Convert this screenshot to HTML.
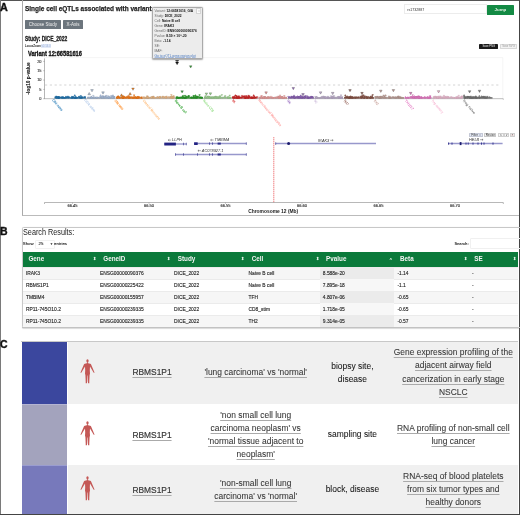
<!DOCTYPE html><html><head><meta charset="utf-8"><title>eQTL figure</title><style>
*{box-sizing:border-box;margin:0;padding:0}
html,body{width:520px;height:515px;overflow:hidden;background:#fff}
body{position:relative;font-family:"Liberation Sans",Arial,sans-serif;color:#222}
.a{position:absolute;white-space:nowrap}
.pl{position:absolute;font-weight:bold;font-size:10px;line-height:10px;color:#111;-webkit-text-stroke:0.35px #111}
.btn{position:absolute;background:#6c757d;color:#f0f0f0;font-size:4.5px;display:flex;align-items:center;justify-content:center;border-radius:0.6px}
.tt{position:absolute;left:152.4px;top:6.6px;width:50.4px;height:52.7px;background:#ececec;border:0.6px solid #aaa;border-radius:1.5px;box-shadow:0 0.5px 1.5px rgba(0,0,0,.35);font-size:3.25px;line-height:4.95px;padding:1.5px 0 0 1.2px;color:#666}
.tt b{color:#111}
.tt a{color:#4a78bd;text-decoration:underline;text-decoration-color:#a8bde0;text-decoration-thickness:0.3px;text-underline-offset:0.4px}
.th{position:absolute;top:252px;height:14.5px;color:#f4f4f4;font-weight:bold;font-size:6.3px;line-height:14.5px}
.si{position:absolute;top:252px;height:14.5px;color:#eef8f0;font-size:4.4px;line-height:14.5px;font-weight:bold}
.td{position:absolute;font-size:4.9px;color:#1e1e1e;line-height:4px;-webkit-text-stroke:0.12px #1e1e1e}
.cc{position:absolute;text-align:center;font-size:8.45px;line-height:13.1px;color:#1a1a1a;-webkit-text-stroke:0.07px currentColor}
.lk{color:#383838;text-decoration:underline;text-decoration-color:#aaa;text-underline-offset:1.5px;text-decoration-thickness:0.7px}
</style></head><body>
<div class="a" style="left:0;top:0;width:520px;height:1px;background:#555"></div>
<div class="a" style="left:0;top:0;width:1px;height:515px;background:#7a7a7a"></div>
<div class="a" style="left:519px;top:0;width:1px;height:515px;background:#444"></div>
<div class="a" style="left:0;top:514px;width:520px;height:1px;background:#444"></div>
<div class="pl" style="left:-0.2px;top:3.3px;transform:scaleX(1.08);transform-origin:0 0">A</div>
<div class="pl" style="left:0.1px;top:226.9px;transform:scaleX(1.05);transform-origin:0 0">B</div>
<div class="pl" style="left:-0.2px;top:340.3px;transform:scaleX(1.05);transform-origin:0 0">C</div>
<div class="a" style="left:22px;top:0;width:497px;height:216px;border-left:0.8px solid #aaa;border-bottom:0.8px solid #bbb"></div>
<div class="a" style="left:25.4px;top:4.1px;font-size:7.7px;font-weight:bold;color:#222;transform:scaleX(0.84);-webkit-text-stroke:0.25px #222;transform-origin:0 0">Single cell eQTLs associated with variant</div>
<div class="btn" style="left:25px;top:19.7px;width:35.8px;height:9.8px">Choose Study</div>
<div class="btn" style="left:63px;top:19.7px;width:20px;height:9.8px">X-Axis</div>
<div class="a" style="left:25.1px;top:35.2px;font-size:6.4px;font-weight:bold;color:#222;transform:scaleX(0.77);-webkit-text-stroke:0.3px #222;transform-origin:0 0">Study: DICE_2022</div>
<div class="a" style="left:25px;top:44.7px;font-size:2.8px;line-height:3.6px;color:#222;font-weight:bold">LocusZoom<span style="color:#9fb4de;background:#e2e9f6;font-weight:normal;padding:0 0.6px">v0.14.0</span></div>
<div class="a" style="left:27.7px;top:49.7px;font-size:6.6px;font-weight:bold;color:#111;transform:scaleX(0.86);-webkit-text-stroke:0.3px #111;transform-origin:0 0">Variant 12:66581616</div>
<div class="a" style="left:404.3px;top:4.3px;width:83px;height:9.6px;border:0.5px solid #ececec;background:#fff"></div>
<div class="a" style="left:407.3px;top:7.6px;font-size:3.6px;color:#333">rs1732887</div>
<div class="a" style="left:487.1px;top:5px;width:26.7px;height:9.6px;background:#138a44;border-radius:0.6px;color:#e8f5e8;font-size:4.4px;font-weight:bold;display:flex;align-items:center;justify-content:center">Jump</div>
<div class="a" style="left:479.3px;top:44.3px;width:18.9px;height:4.6px;background:#1b1b1b;color:#eee;font-size:2.7px;display:flex;align-items:center;justify-content:center;border-radius:0.4px">Save PNG</div>
<div class="a" style="left:499.8px;top:44.3px;width:17.4px;height:4.6px;background:#f2f2f2;border:0.4px solid #d8d8d8;color:#999;font-size:2.7px;display:flex;align-items:center;justify-content:center;border-radius:0.4px">Save SVG</div>
<svg width="520" height="220" viewBox="0 0 520 220" style="position:absolute;left:0;top:0">
<rect x="44.5" y="57.8" width="458.4" height="40.9" fill="none" stroke="#eeeeee" stroke-width="0.6"/>
<line x1="45" y1="85.0" x2="501" y2="85.0" stroke="#cfcfcf" stroke-width="0.9" stroke-dasharray="2.2,2.6"/>
<line x1="44.5" y1="58.5" x2="44.5" y2="98.9" stroke="#777" stroke-width="0.5"/>
<line x1="43.3" y1="98.70" x2="44.5" y2="98.70" stroke="#777" stroke-width="0.5"/>
<text x="41.5" y="100.10" font-size="3.9" text-anchor="end" fill="#333" stroke="#333" stroke-width="0.12" font-family="Liberation Sans, sans-serif">0</text>
<line x1="43.3" y1="89.38" x2="44.5" y2="89.38" stroke="#777" stroke-width="0.5"/>
<text x="41.5" y="90.78" font-size="3.9" text-anchor="end" fill="#333" stroke="#333" stroke-width="0.12" font-family="Liberation Sans, sans-serif">5</text>
<line x1="43.3" y1="80.05" x2="44.5" y2="80.05" stroke="#777" stroke-width="0.5"/>
<text x="41.5" y="81.45" font-size="3.9" text-anchor="end" fill="#333" stroke="#333" stroke-width="0.12" font-family="Liberation Sans, sans-serif">10</text>
<line x1="43.3" y1="70.72" x2="44.5" y2="70.72" stroke="#777" stroke-width="0.5"/>
<text x="41.5" y="72.12" font-size="3.9" text-anchor="end" fill="#333" stroke="#333" stroke-width="0.12" font-family="Liberation Sans, sans-serif">15</text>
<line x1="43.3" y1="61.40" x2="44.5" y2="61.40" stroke="#777" stroke-width="0.5"/>
<text x="41.5" y="62.80" font-size="3.9" text-anchor="end" fill="#333" stroke="#333" stroke-width="0.12" font-family="Liberation Sans, sans-serif">20</text>
<text transform="translate(30.2,78.5) rotate(-90)" font-size="4.8" font-weight="bold" text-anchor="middle" fill="#222" stroke="#222" stroke-width="0.12" font-family="Liberation Sans, sans-serif" textLength="32.4" lengthAdjust="spacingAndGlyphs">-log10 p-value</text>
<line x1="44.5" y1="98.7" x2="503.3" y2="98.7" stroke="#888" stroke-width="0.5"/>
<line x1="503.3" y1="98.7" x2="503.3" y2="99.8" stroke="#888" stroke-width="0.5"/>
<line x1="54.5" y1="97.9" x2="86.0" y2="97.9" stroke="#1a5f90" stroke-width="1.3"/>
<polygon points="64.01,98.40 65.61,98.40 64.81,97.01" fill="#1f77b4" stroke="#1a5f90" stroke-width="0.35"/>
<polygon points="56.24,96.67 57.84,96.67 57.04,98.06" fill="#1f77b4" stroke="#1a5f90" stroke-width="0.35"/>
<polygon points="55.79,96.70 57.39,96.70 56.59,98.10" fill="#1f77b4" stroke="#1a5f90" stroke-width="0.35"/>
<polygon points="67.40,97.06 69.00,97.06 68.20,98.46" fill="#1f77b4" stroke="#1a5f90" stroke-width="0.35"/>
<polygon points="67.12,96.11 68.72,96.11 67.92,97.50" fill="#1f77b4" stroke="#1a5f90" stroke-width="0.35"/>
<polygon points="60.90,97.94 62.50,97.94 61.70,96.55" fill="#1f77b4" stroke="#1a5f90" stroke-width="0.35"/>
<polygon points="71.83,98.21 73.43,98.21 72.63,96.82" fill="#1f77b4" stroke="#1a5f90" stroke-width="0.35"/>
<polygon points="55.44,96.00 57.04,96.00 56.24,97.39" fill="#1f77b4" stroke="#1a5f90" stroke-width="0.35"/>
<polygon points="58.46,97.03 60.06,97.03 59.26,98.43" fill="#1f77b4" stroke="#1a5f90" stroke-width="0.35"/>
<polygon points="79.22,98.38 80.82,98.38 80.02,96.99" fill="#1f77b4" stroke="#1a5f90" stroke-width="0.35"/>
<polygon points="73.74,98.23 75.34,98.23 74.54,96.84" fill="#1f77b4" stroke="#1a5f90" stroke-width="0.35"/>
<polygon points="55.94,97.07 57.54,97.07 56.74,98.46" fill="#1f77b4" stroke="#1a5f90" stroke-width="0.35"/>
<polygon points="75.02,96.79 76.62,96.79 75.82,98.18" fill="#1f77b4" stroke="#1a5f90" stroke-width="0.35"/>
<polygon points="72.09,96.76 73.69,96.76 72.89,98.15" fill="#1f77b4" stroke="#1a5f90" stroke-width="0.35"/>
<polygon points="78.55,96.43 80.15,96.43 79.35,97.82" fill="#1f77b4" stroke="#1a5f90" stroke-width="0.35"/>
<polygon points="71.75,98.08 73.35,98.08 72.55,96.68" fill="#1f77b4" stroke="#1a5f90" stroke-width="0.35"/>
<polygon points="76.54,98.30 78.14,98.30 77.34,96.91" fill="#1f77b4" stroke="#1a5f90" stroke-width="0.35"/>
<polygon points="57.65,98.19 59.25,98.19 58.45,96.80" fill="#1f77b4" stroke="#1a5f90" stroke-width="0.35"/>
<polygon points="58.70,96.72 60.30,96.72 59.50,98.12" fill="#1f77b4" stroke="#1a5f90" stroke-width="0.35"/>
<polygon points="74.65,97.68 76.25,97.68 75.45,96.29" fill="#1f77b4" stroke="#1a5f90" stroke-width="0.35"/>
<polygon points="81.05,98.28 82.65,98.28 81.85,96.89" fill="#1f77b4" stroke="#1a5f90" stroke-width="0.35"/>
<polygon points="72.37,96.61 73.97,96.61 73.17,98.01" fill="#1f77b4" stroke="#1a5f90" stroke-width="0.35"/>
<polygon points="79.96,95.47 81.56,95.47 80.76,96.86" fill="#1f77b4" stroke="#1a5f90" stroke-width="0.35"/>
<polygon points="74.52,98.46 76.12,98.46 75.32,97.07" fill="#1f77b4" stroke="#1a5f90" stroke-width="0.35"/>
<polygon points="74.00,95.88 75.60,95.88 74.80,94.49" fill="#1f77b4" stroke="#1a5f90" stroke-width="0.35"/>
<polygon points="62.79,98.22 64.39,98.22 63.59,96.83" fill="#1f77b4" stroke="#1a5f90" stroke-width="0.35"/>
<polygon points="54.70,96.75 56.30,96.75 55.50,98.15" fill="#1f77b4" stroke="#1a5f90" stroke-width="0.35"/>
<polygon points="57.62,98.46 59.22,98.46 58.42,97.07" fill="#1f77b4" stroke="#1a5f90" stroke-width="0.35"/>
<polygon points="58.00,96.94 59.60,96.94 58.80,98.34" fill="#1f77b4" stroke="#1a5f90" stroke-width="0.35"/>
<polygon points="80.93,97.06 82.53,97.06 81.73,98.45" fill="#1f77b4" stroke="#1a5f90" stroke-width="0.35"/>
<polygon points="70.98,97.28 72.58,97.28 71.78,95.89" fill="#1f77b4" stroke="#1a5f90" stroke-width="0.35"/>
<polygon points="80.70,96.92 82.30,96.92 81.50,98.31" fill="#1f77b4" stroke="#1a5f90" stroke-width="0.35"/>
<polygon points="65.09,97.28 66.69,97.28 65.89,95.89" fill="#1f77b4" stroke="#1a5f90" stroke-width="0.35"/>
<polygon points="58.66,96.99 60.26,96.99 59.46,98.39" fill="#1f77b4" stroke="#1a5f90" stroke-width="0.35"/>
<polygon points="61.21,98.12 62.81,98.12 62.01,96.73" fill="#1f77b4" stroke="#1a5f90" stroke-width="0.35"/>
<polygon points="62.12,97.10 63.72,97.10 62.92,98.49" fill="#1f77b4" stroke="#1a5f90" stroke-width="0.35"/>
<polygon points="65.41,98.02 67.01,98.02 66.21,96.63" fill="#1f77b4" stroke="#1a5f90" stroke-width="0.35"/>
<polygon points="75.34,98.09 76.94,98.09 76.14,96.69" fill="#1f77b4" stroke="#1a5f90" stroke-width="0.35"/>
<polygon points="74.89,98.46 76.49,98.46 75.69,97.07" fill="#1f77b4" stroke="#1a5f90" stroke-width="0.35"/>
<polygon points="78.10,97.32 79.70,97.32 78.90,95.93" fill="#1f77b4" stroke="#1a5f90" stroke-width="0.35"/>
<polygon points="66.12,96.82 67.72,96.82 66.92,98.21" fill="#1f77b4" stroke="#1a5f90" stroke-width="0.35"/>
<polygon points="73.60,97.07 75.20,97.07 74.40,98.46" fill="#1f77b4" stroke="#1a5f90" stroke-width="0.35"/>
<polygon points="60.45,97.00 62.05,97.00 61.25,98.40" fill="#1f77b4" stroke="#1a5f90" stroke-width="0.35"/>
<polygon points="55.62,97.10 57.22,97.10 56.42,98.50" fill="#1f77b4" stroke="#1a5f90" stroke-width="0.35"/>
<polygon points="57.14,96.85 58.74,96.85 57.94,98.24" fill="#1f77b4" stroke="#1a5f90" stroke-width="0.35"/>
<polygon points="81.02,96.57 82.62,96.57 81.82,97.96" fill="#1f77b4" stroke="#1a5f90" stroke-width="0.35"/>
<polygon points="61.79,96.86 63.39,96.86 62.59,98.25" fill="#1f77b4" stroke="#1a5f90" stroke-width="0.35"/>
<polygon points="57.80,97.43 59.40,97.43 58.60,96.04" fill="#1f77b4" stroke="#1a5f90" stroke-width="0.35"/>
<polygon points="68.40,96.73 70.00,96.73 69.20,98.12" fill="#1f77b4" stroke="#1a5f90" stroke-width="0.35"/>
<polygon points="57.16,96.87 58.76,96.87 57.96,98.26" fill="#1f77b4" stroke="#1a5f90" stroke-width="0.35"/>
<polygon points="79.61,97.00 81.21,97.00 80.41,98.40" fill="#1f77b4" stroke="#1a5f90" stroke-width="0.35"/>
<polygon points="83.39,96.68 84.99,96.68 84.19,98.07" fill="#1f77b4" stroke="#1a5f90" stroke-width="0.35"/>
<polygon points="70.78,98.48 72.38,98.48 71.58,97.09" fill="#1f77b4" stroke="#1a5f90" stroke-width="0.35"/>
<polygon points="84.24,97.37 85.84,97.37 85.04,95.98" fill="#1f77b4" stroke="#1a5f90" stroke-width="0.35"/>
<polygon points="62.07,96.85 63.67,96.85 62.87,98.24" fill="#1f77b4" stroke="#1a5f90" stroke-width="0.35"/>
<line x1="87.0" y1="97.9" x2="115.0" y2="97.9" stroke="#8797ad" stroke-width="1.3"/>
<polygon points="107.65,98.07 109.25,98.07 108.45,96.67" fill="#aec7e8" stroke="#8797ad" stroke-width="0.35"/>
<polygon points="95.53,98.35 97.13,98.35 96.33,96.96" fill="#aec7e8" stroke="#8797ad" stroke-width="0.35"/>
<polygon points="113.49,97.41 115.09,97.41 114.29,96.02" fill="#aec7e8" stroke="#8797ad" stroke-width="0.35"/>
<polygon points="108.92,96.34 110.52,96.34 109.72,97.73" fill="#aec7e8" stroke="#8797ad" stroke-width="0.35"/>
<polygon points="100.68,96.86 102.28,96.86 101.48,98.25" fill="#aec7e8" stroke="#8797ad" stroke-width="0.35"/>
<polygon points="87.27,96.92 88.87,96.92 88.07,98.31" fill="#aec7e8" stroke="#8797ad" stroke-width="0.35"/>
<polygon points="105.48,95.33 107.08,95.33 106.28,96.72" fill="#aec7e8" stroke="#8797ad" stroke-width="0.35"/>
<polygon points="112.17,95.99 113.77,95.99 112.97,94.60" fill="#aec7e8" stroke="#8797ad" stroke-width="0.35"/>
<polygon points="96.49,96.96 98.09,96.96 97.29,98.36" fill="#aec7e8" stroke="#8797ad" stroke-width="0.35"/>
<polygon points="91.89,98.37 93.49,98.37 92.69,96.97" fill="#aec7e8" stroke="#8797ad" stroke-width="0.35"/>
<polygon points="111.17,96.07 112.77,96.07 111.97,97.46" fill="#aec7e8" stroke="#8797ad" stroke-width="0.35"/>
<polygon points="104.39,96.20 105.99,96.20 105.19,97.59" fill="#aec7e8" stroke="#8797ad" stroke-width="0.35"/>
<polygon points="104.60,97.14 106.20,97.14 105.40,95.74" fill="#aec7e8" stroke="#8797ad" stroke-width="0.35"/>
<polygon points="107.05,96.74 108.65,96.74 107.85,98.13" fill="#aec7e8" stroke="#8797ad" stroke-width="0.35"/>
<polygon points="108.12,98.27 109.72,98.27 108.92,96.88" fill="#aec7e8" stroke="#8797ad" stroke-width="0.35"/>
<polygon points="113.12,96.82 114.72,96.82 113.92,98.21" fill="#aec7e8" stroke="#8797ad" stroke-width="0.35"/>
<polygon points="112.44,96.37 114.04,96.37 113.24,97.77" fill="#aec7e8" stroke="#8797ad" stroke-width="0.35"/>
<polygon points="89.98,98.40 91.58,98.40 90.78,97.01" fill="#aec7e8" stroke="#8797ad" stroke-width="0.35"/>
<polygon points="108.60,98.41 110.20,98.41 109.40,97.01" fill="#aec7e8" stroke="#8797ad" stroke-width="0.35"/>
<polygon points="113.36,96.50 114.96,96.50 114.16,97.89" fill="#aec7e8" stroke="#8797ad" stroke-width="0.35"/>
<polygon points="101.53,97.02 103.13,97.02 102.33,98.42" fill="#aec7e8" stroke="#8797ad" stroke-width="0.35"/>
<polygon points="113.10,97.90 114.70,97.90 113.90,96.51" fill="#aec7e8" stroke="#8797ad" stroke-width="0.35"/>
<polygon points="112.08,98.17 113.68,98.17 112.88,96.78" fill="#aec7e8" stroke="#8797ad" stroke-width="0.35"/>
<polygon points="109.14,96.97 110.74,96.97 109.94,98.36" fill="#aec7e8" stroke="#8797ad" stroke-width="0.35"/>
<polygon points="94.53,98.34 96.13,98.34 95.33,96.95" fill="#aec7e8" stroke="#8797ad" stroke-width="0.35"/>
<polygon points="93.61,96.80 95.21,96.80 94.41,98.19" fill="#aec7e8" stroke="#8797ad" stroke-width="0.35"/>
<polygon points="111.43,96.86 113.03,96.86 112.23,98.25" fill="#aec7e8" stroke="#8797ad" stroke-width="0.35"/>
<polygon points="102.48,95.78 104.08,95.78 103.28,97.17" fill="#aec7e8" stroke="#8797ad" stroke-width="0.35"/>
<polygon points="111.65,98.10 113.25,98.10 112.45,96.71" fill="#aec7e8" stroke="#8797ad" stroke-width="0.35"/>
<polygon points="100.84,97.09 102.44,97.09 101.64,98.49" fill="#aec7e8" stroke="#8797ad" stroke-width="0.35"/>
<polygon points="91.52,98.49 93.12,98.49 92.32,97.10" fill="#aec7e8" stroke="#8797ad" stroke-width="0.35"/>
<polygon points="91.22,98.13 92.82,98.13 92.02,96.74" fill="#aec7e8" stroke="#8797ad" stroke-width="0.35"/>
<polygon points="101.75,98.27 103.35,98.27 102.55,96.88" fill="#aec7e8" stroke="#8797ad" stroke-width="0.35"/>
<polygon points="101.72,96.24 103.32,96.24 102.52,97.63" fill="#aec7e8" stroke="#8797ad" stroke-width="0.35"/>
<polygon points="101.85,96.94 103.45,96.94 102.65,98.33" fill="#aec7e8" stroke="#8797ad" stroke-width="0.35"/>
<polygon points="107.66,98.10 109.26,98.10 108.46,96.70" fill="#aec7e8" stroke="#8797ad" stroke-width="0.35"/>
<polygon points="107.32,95.73 108.92,95.73 108.12,97.12" fill="#aec7e8" stroke="#8797ad" stroke-width="0.35"/>
<polygon points="103.28,98.10 104.88,98.10 104.08,96.71" fill="#aec7e8" stroke="#8797ad" stroke-width="0.35"/>
<polygon points="105.48,98.16 107.08,98.16 106.28,96.76" fill="#aec7e8" stroke="#8797ad" stroke-width="0.35"/>
<polygon points="99.60,96.89 101.20,96.89 100.40,95.50" fill="#aec7e8" stroke="#8797ad" stroke-width="0.35"/>
<polygon points="110.52,95.49 112.12,95.49 111.32,96.89" fill="#aec7e8" stroke="#8797ad" stroke-width="0.35"/>
<polygon points="101.83,96.87 103.43,96.87 102.63,95.48" fill="#aec7e8" stroke="#8797ad" stroke-width="0.35"/>
<polygon points="90.26,97.03 91.86,97.03 91.06,98.42" fill="#aec7e8" stroke="#8797ad" stroke-width="0.35"/>
<polygon points="88.49,96.95 90.09,96.95 89.29,98.34" fill="#aec7e8" stroke="#8797ad" stroke-width="0.35"/>
<polygon points="104.84,97.63 106.44,97.63 105.64,96.24" fill="#aec7e8" stroke="#8797ad" stroke-width="0.35"/>
<polygon points="90.73,97.78 92.33,97.78 91.53,96.39" fill="#aec7e8" stroke="#8797ad" stroke-width="0.35"/>
<polygon points="90.42,97.28 92.02,97.28 91.22,95.89" fill="#aec7e8" stroke="#8797ad" stroke-width="0.35"/>
<polygon points="92.52,95.38 94.12,95.38 93.32,96.77" fill="#aec7e8" stroke="#8797ad" stroke-width="0.35"/>
<polygon points="99.85,95.90 101.45,95.90 100.65,94.51" fill="#aec7e8" stroke="#8797ad" stroke-width="0.35"/>
<polygon points="90.92,98.18 92.52,98.18 91.72,96.78" fill="#aec7e8" stroke="#8797ad" stroke-width="0.35"/>
<polygon points="95.79,96.98 97.39,96.98 96.59,98.37" fill="#aec7e8" stroke="#8797ad" stroke-width="0.35"/>
<polygon points="106.29,98.48 107.89,98.48 107.09,97.09" fill="#aec7e8" stroke="#8797ad" stroke-width="0.35"/>
<polygon points="98.57,97.09 100.17,97.09 99.37,98.49" fill="#aec7e8" stroke="#8797ad" stroke-width="0.35"/>
<polygon points="103.60,96.70 105.20,96.70 104.40,98.09" fill="#aec7e8" stroke="#8797ad" stroke-width="0.35"/>
<polygon points="113.49,97.62 115.09,97.62 114.29,96.23" fill="#aec7e8" stroke="#8797ad" stroke-width="0.35"/>
<line x1="116.0" y1="97.9" x2="142.5" y2="97.9" stroke="#c8661b" stroke-width="1.3"/>
<polygon points="118.21,96.93 119.81,96.93 119.01,98.32" fill="#ff7f0e" stroke="#c8661b" stroke-width="0.35"/>
<polygon points="135.68,96.93 137.28,96.93 136.48,98.32" fill="#ff7f0e" stroke="#c8661b" stroke-width="0.35"/>
<polygon points="126.44,97.13 128.04,97.13 127.24,95.73" fill="#ff7f0e" stroke="#c8661b" stroke-width="0.35"/>
<polygon points="122.20,98.40 123.80,98.40 123.00,97.01" fill="#ff7f0e" stroke="#c8661b" stroke-width="0.35"/>
<polygon points="130.28,96.42 131.88,96.42 131.08,97.81" fill="#ff7f0e" stroke="#c8661b" stroke-width="0.35"/>
<polygon points="116.99,96.45 118.59,96.45 117.79,97.84" fill="#ff7f0e" stroke="#c8661b" stroke-width="0.35"/>
<polygon points="117.38,96.92 118.98,96.92 118.18,95.53" fill="#ff7f0e" stroke="#c8661b" stroke-width="0.35"/>
<polygon points="136.26,98.45 137.86,98.45 137.06,97.05" fill="#ff7f0e" stroke="#c8661b" stroke-width="0.35"/>
<polygon points="117.23,95.98 118.83,95.98 118.03,97.37" fill="#ff7f0e" stroke="#c8661b" stroke-width="0.35"/>
<polygon points="124.28,98.04 125.88,98.04 125.08,96.65" fill="#ff7f0e" stroke="#c8661b" stroke-width="0.35"/>
<polygon points="122.44,98.42 124.04,98.42 123.24,97.03" fill="#ff7f0e" stroke="#c8661b" stroke-width="0.35"/>
<polygon points="121.68,97.04 123.28,97.04 122.48,98.43" fill="#ff7f0e" stroke="#c8661b" stroke-width="0.35"/>
<polygon points="116.80,96.98 118.40,96.98 117.60,98.37" fill="#ff7f0e" stroke="#c8661b" stroke-width="0.35"/>
<polygon points="123.40,96.30 125.00,96.30 124.20,97.69" fill="#ff7f0e" stroke="#c8661b" stroke-width="0.35"/>
<polygon points="128.45,96.99 130.05,96.99 129.25,98.39" fill="#ff7f0e" stroke="#c8661b" stroke-width="0.35"/>
<polygon points="115.97,96.94 117.57,96.94 116.77,98.33" fill="#ff7f0e" stroke="#c8661b" stroke-width="0.35"/>
<polygon points="134.49,96.65 136.09,96.65 135.29,98.04" fill="#ff7f0e" stroke="#c8661b" stroke-width="0.35"/>
<polygon points="127.80,95.56 129.40,95.56 128.60,96.95" fill="#ff7f0e" stroke="#c8661b" stroke-width="0.35"/>
<polygon points="136.71,96.78 138.31,96.78 137.51,98.18" fill="#ff7f0e" stroke="#c8661b" stroke-width="0.35"/>
<polygon points="137.12,98.21 138.72,98.21 137.92,96.82" fill="#ff7f0e" stroke="#c8661b" stroke-width="0.35"/>
<polygon points="133.31,94.82 134.91,94.82 134.11,96.21" fill="#ff7f0e" stroke="#c8661b" stroke-width="0.35"/>
<polygon points="137.06,97.80 138.66,97.80 137.86,96.41" fill="#ff7f0e" stroke="#c8661b" stroke-width="0.35"/>
<polygon points="125.98,96.86 127.58,96.86 126.78,98.25" fill="#ff7f0e" stroke="#c8661b" stroke-width="0.35"/>
<polygon points="118.86,98.45 120.46,98.45 119.66,97.06" fill="#ff7f0e" stroke="#c8661b" stroke-width="0.35"/>
<polygon points="122.12,97.00 123.72,97.00 122.92,98.40" fill="#ff7f0e" stroke="#c8661b" stroke-width="0.35"/>
<polygon points="137.29,97.34 138.89,97.34 138.09,95.95" fill="#ff7f0e" stroke="#c8661b" stroke-width="0.35"/>
<polygon points="122.80,96.95 124.40,96.95 123.60,98.34" fill="#ff7f0e" stroke="#c8661b" stroke-width="0.35"/>
<polygon points="127.40,97.01 129.00,97.01 128.20,98.40" fill="#ff7f0e" stroke="#c8661b" stroke-width="0.35"/>
<polygon points="122.32,96.65 123.92,96.65 123.12,95.26" fill="#ff7f0e" stroke="#c8661b" stroke-width="0.35"/>
<polygon points="129.67,98.34 131.27,98.34 130.47,96.95" fill="#ff7f0e" stroke="#c8661b" stroke-width="0.35"/>
<polygon points="123.52,96.85 125.12,96.85 124.32,98.25" fill="#ff7f0e" stroke="#c8661b" stroke-width="0.35"/>
<polygon points="125.38,98.13 126.98,98.13 126.18,96.74" fill="#ff7f0e" stroke="#c8661b" stroke-width="0.35"/>
<polygon points="120.71,96.71 122.31,96.71 121.51,98.10" fill="#ff7f0e" stroke="#c8661b" stroke-width="0.35"/>
<polygon points="122.34,97.05 123.94,97.05 123.14,98.44" fill="#ff7f0e" stroke="#c8661b" stroke-width="0.35"/>
<polygon points="116.58,97.09 118.18,97.09 117.38,98.48" fill="#ff7f0e" stroke="#c8661b" stroke-width="0.35"/>
<polygon points="121.53,98.00 123.13,98.00 122.33,96.61" fill="#ff7f0e" stroke="#c8661b" stroke-width="0.35"/>
<polygon points="134.94,97.89 136.54,97.89 135.74,96.50" fill="#ff7f0e" stroke="#c8661b" stroke-width="0.35"/>
<polygon points="138.27,96.83 139.87,96.83 139.07,98.22" fill="#ff7f0e" stroke="#c8661b" stroke-width="0.35"/>
<polygon points="141.00,98.40 142.60,98.40 141.80,97.01" fill="#ff7f0e" stroke="#c8661b" stroke-width="0.35"/>
<polygon points="132.16,98.47 133.76,98.47 132.96,97.08" fill="#ff7f0e" stroke="#c8661b" stroke-width="0.35"/>
<polygon points="138.60,97.94 140.20,97.94 139.40,96.55" fill="#ff7f0e" stroke="#c8661b" stroke-width="0.35"/>
<polygon points="136.54,98.41 138.14,98.41 137.34,97.02" fill="#ff7f0e" stroke="#c8661b" stroke-width="0.35"/>
<polygon points="128.56,97.48 130.16,97.48 129.36,96.09" fill="#ff7f0e" stroke="#c8661b" stroke-width="0.35"/>
<polygon points="136.90,98.00 138.50,98.00 137.70,96.61" fill="#ff7f0e" stroke="#c8661b" stroke-width="0.35"/>
<polygon points="133.19,96.44 134.79,96.44 133.99,97.83" fill="#ff7f0e" stroke="#c8661b" stroke-width="0.35"/>
<polygon points="116.31,97.02 117.91,97.02 117.11,98.42" fill="#ff7f0e" stroke="#c8661b" stroke-width="0.35"/>
<polygon points="118.22,97.47 119.82,97.47 119.02,96.08" fill="#ff7f0e" stroke="#c8661b" stroke-width="0.35"/>
<polygon points="131.76,97.94 133.36,97.94 132.56,96.55" fill="#ff7f0e" stroke="#c8661b" stroke-width="0.35"/>
<polygon points="128.17,98.49 129.77,98.49 128.97,97.10" fill="#ff7f0e" stroke="#c8661b" stroke-width="0.35"/>
<polygon points="134.88,98.10 136.48,98.10 135.68,96.71" fill="#ff7f0e" stroke="#c8661b" stroke-width="0.35"/>
<polygon points="132.58,98.46 134.18,98.46 133.38,97.07" fill="#ff7f0e" stroke="#c8661b" stroke-width="0.35"/>
<polygon points="122.03,97.06 123.63,97.06 122.83,98.45" fill="#ff7f0e" stroke="#c8661b" stroke-width="0.35"/>
<polygon points="134.39,98.37 135.99,98.37 135.19,96.97" fill="#ff7f0e" stroke="#c8661b" stroke-width="0.35"/>
<polygon points="140.77,96.72 142.37,96.72 141.57,98.11" fill="#ff7f0e" stroke="#c8661b" stroke-width="0.35"/>
<polygon points="127.91,97.85 129.51,97.85 128.71,96.45" fill="#ff7f0e" stroke="#c8661b" stroke-width="0.35"/>
<line x1="143.5" y1="97.9" x2="174.5" y2="97.9" stroke="#b89878" stroke-width="1.3"/>
<polygon points="161.76,96.52 163.36,96.52 162.56,97.91" fill="#ffbb78" stroke="#b89878" stroke-width="0.35"/>
<polygon points="147.48,98.33 149.08,98.33 148.28,96.94" fill="#ffbb78" stroke="#b89878" stroke-width="0.35"/>
<polygon points="152.25,96.63 153.85,96.63 153.05,98.02" fill="#ffbb78" stroke="#b89878" stroke-width="0.35"/>
<polygon points="144.84,98.32 146.44,98.32 145.64,96.93" fill="#ffbb78" stroke="#b89878" stroke-width="0.35"/>
<polygon points="164.04,96.47 165.64,96.47 164.84,97.86" fill="#ffbb78" stroke="#b89878" stroke-width="0.35"/>
<polygon points="158.70,96.75 160.30,96.75 159.50,98.14" fill="#ffbb78" stroke="#b89878" stroke-width="0.35"/>
<polygon points="146.60,95.84 148.20,95.84 147.40,97.23" fill="#ffbb78" stroke="#b89878" stroke-width="0.35"/>
<polygon points="172.74,95.55 174.34,95.55 173.54,96.94" fill="#ffbb78" stroke="#b89878" stroke-width="0.35"/>
<polygon points="156.95,97.53 158.55,97.53 157.75,96.14" fill="#ffbb78" stroke="#b89878" stroke-width="0.35"/>
<polygon points="156.66,96.93 158.26,96.93 157.46,98.32" fill="#ffbb78" stroke="#b89878" stroke-width="0.35"/>
<polygon points="171.75,98.36 173.35,98.36 172.55,96.97" fill="#ffbb78" stroke="#b89878" stroke-width="0.35"/>
<polygon points="147.31,98.08 148.91,98.08 148.11,96.68" fill="#ffbb78" stroke="#b89878" stroke-width="0.35"/>
<polygon points="147.03,97.53 148.63,97.53 147.83,96.13" fill="#ffbb78" stroke="#b89878" stroke-width="0.35"/>
<polygon points="169.96,96.42 171.56,96.42 170.76,97.81" fill="#ffbb78" stroke="#b89878" stroke-width="0.35"/>
<polygon points="170.29,96.73 171.89,96.73 171.09,98.12" fill="#ffbb78" stroke="#b89878" stroke-width="0.35"/>
<polygon points="143.11,96.72 144.71,96.72 143.91,98.11" fill="#ffbb78" stroke="#b89878" stroke-width="0.35"/>
<polygon points="152.18,97.02 153.78,97.02 152.98,98.41" fill="#ffbb78" stroke="#b89878" stroke-width="0.35"/>
<polygon points="152.61,96.07 154.21,96.07 153.41,97.46" fill="#ffbb78" stroke="#b89878" stroke-width="0.35"/>
<polygon points="165.82,96.07 167.42,96.07 166.62,97.46" fill="#ffbb78" stroke="#b89878" stroke-width="0.35"/>
<polygon points="171.16,97.79 172.76,97.79 171.96,96.40" fill="#ffbb78" stroke="#b89878" stroke-width="0.35"/>
<polygon points="151.81,96.84 153.41,96.84 152.61,98.23" fill="#ffbb78" stroke="#b89878" stroke-width="0.35"/>
<polygon points="173.36,96.60 174.96,96.60 174.16,97.99" fill="#ffbb78" stroke="#b89878" stroke-width="0.35"/>
<polygon points="156.01,96.92 157.61,96.92 156.81,98.31" fill="#ffbb78" stroke="#b89878" stroke-width="0.35"/>
<polygon points="146.09,96.09 147.69,96.09 146.89,97.48" fill="#ffbb78" stroke="#b89878" stroke-width="0.35"/>
<polygon points="171.44,96.94 173.04,96.94 172.24,98.33" fill="#ffbb78" stroke="#b89878" stroke-width="0.35"/>
<polygon points="158.53,96.99 160.13,96.99 159.33,98.38" fill="#ffbb78" stroke="#b89878" stroke-width="0.35"/>
<polygon points="172.07,97.28 173.67,97.28 172.87,95.89" fill="#ffbb78" stroke="#b89878" stroke-width="0.35"/>
<polygon points="162.18,97.11 163.78,97.11 162.98,95.72" fill="#ffbb78" stroke="#b89878" stroke-width="0.35"/>
<polygon points="159.70,96.39 161.30,96.39 160.50,97.78" fill="#ffbb78" stroke="#b89878" stroke-width="0.35"/>
<polygon points="165.26,98.16 166.86,98.16 166.06,96.77" fill="#ffbb78" stroke="#b89878" stroke-width="0.35"/>
<polygon points="162.59,96.91 164.19,96.91 163.39,98.31" fill="#ffbb78" stroke="#b89878" stroke-width="0.35"/>
<polygon points="171.17,97.03 172.77,97.03 171.97,98.42" fill="#ffbb78" stroke="#b89878" stroke-width="0.35"/>
<polygon points="153.45,98.30 155.05,98.30 154.25,96.90" fill="#ffbb78" stroke="#b89878" stroke-width="0.35"/>
<polygon points="172.68,98.33 174.28,98.33 173.48,96.93" fill="#ffbb78" stroke="#b89878" stroke-width="0.35"/>
<polygon points="152.15,96.64 153.75,96.64 152.95,98.04" fill="#ffbb78" stroke="#b89878" stroke-width="0.35"/>
<polygon points="148.09,97.00 149.69,97.00 148.89,98.40" fill="#ffbb78" stroke="#b89878" stroke-width="0.35"/>
<polygon points="170.54,96.72 172.14,96.72 171.34,98.11" fill="#ffbb78" stroke="#b89878" stroke-width="0.35"/>
<polygon points="170.55,94.49 172.15,94.49 171.35,95.88" fill="#ffbb78" stroke="#b89878" stroke-width="0.35"/>
<polygon points="147.24,96.98 148.84,96.98 148.04,98.38" fill="#ffbb78" stroke="#b89878" stroke-width="0.35"/>
<polygon points="153.40,97.05 155.00,97.05 154.20,98.44" fill="#ffbb78" stroke="#b89878" stroke-width="0.35"/>
<polygon points="150.85,98.02 152.45,98.02 151.65,96.63" fill="#ffbb78" stroke="#b89878" stroke-width="0.35"/>
<polygon points="165.79,96.80 167.39,96.80 166.59,98.20" fill="#ffbb78" stroke="#b89878" stroke-width="0.35"/>
<polygon points="158.93,96.84 160.53,96.84 159.73,98.23" fill="#ffbb78" stroke="#b89878" stroke-width="0.35"/>
<polygon points="144.89,98.31 146.49,98.31 145.69,96.92" fill="#ffbb78" stroke="#b89878" stroke-width="0.35"/>
<polygon points="146.83,98.10 148.43,98.10 147.63,96.71" fill="#ffbb78" stroke="#b89878" stroke-width="0.35"/>
<polygon points="169.23,96.97 170.83,96.97 170.03,98.36" fill="#ffbb78" stroke="#b89878" stroke-width="0.35"/>
<polygon points="150.55,96.82 152.15,96.82 151.35,98.21" fill="#ffbb78" stroke="#b89878" stroke-width="0.35"/>
<polygon points="172.00,97.43 173.60,97.43 172.80,96.04" fill="#ffbb78" stroke="#b89878" stroke-width="0.35"/>
<polygon points="143.66,98.48 145.26,98.48 144.46,97.09" fill="#ffbb78" stroke="#b89878" stroke-width="0.35"/>
<polygon points="170.23,98.13 171.83,98.13 171.03,96.74" fill="#ffbb78" stroke="#b89878" stroke-width="0.35"/>
<polygon points="143.01,98.22 144.61,98.22 143.81,96.82" fill="#ffbb78" stroke="#b89878" stroke-width="0.35"/>
<polygon points="168.10,97.40 169.70,97.40 168.90,96.01" fill="#ffbb78" stroke="#b89878" stroke-width="0.35"/>
<polygon points="150.55,97.04 152.15,97.04 151.35,98.43" fill="#ffbb78" stroke="#b89878" stroke-width="0.35"/>
<polygon points="158.88,97.85 160.48,97.85 159.68,96.46" fill="#ffbb78" stroke="#b89878" stroke-width="0.35"/>
<polygon points="164.94,97.91 166.54,97.91 165.74,96.51" fill="#ffbb78" stroke="#b89878" stroke-width="0.35"/>
<line x1="175.5" y1="97.9" x2="203.0" y2="97.9" stroke="#237f23" stroke-width="1.3"/>
<polygon points="187.30,96.65 188.90,96.65 188.10,98.04" fill="#2ca02c" stroke="#237f23" stroke-width="0.35"/>
<polygon points="196.04,98.35 197.64,98.35 196.84,96.95" fill="#2ca02c" stroke="#237f23" stroke-width="0.35"/>
<polygon points="192.36,96.90 193.96,96.90 193.16,98.29" fill="#2ca02c" stroke="#237f23" stroke-width="0.35"/>
<polygon points="181.77,97.92 183.37,97.92 182.57,96.53" fill="#2ca02c" stroke="#237f23" stroke-width="0.35"/>
<polygon points="178.02,98.45 179.62,98.45 178.82,97.06" fill="#2ca02c" stroke="#237f23" stroke-width="0.35"/>
<polygon points="190.68,96.83 192.28,96.83 191.48,98.22" fill="#2ca02c" stroke="#237f23" stroke-width="0.35"/>
<polygon points="191.17,97.10 192.77,97.10 191.97,98.49" fill="#2ca02c" stroke="#237f23" stroke-width="0.35"/>
<polygon points="187.39,96.69 188.99,96.69 188.19,95.30" fill="#2ca02c" stroke="#237f23" stroke-width="0.35"/>
<polygon points="198.77,96.74 200.37,96.74 199.57,98.13" fill="#2ca02c" stroke="#237f23" stroke-width="0.35"/>
<polygon points="181.65,96.67 183.25,96.67 182.45,95.28" fill="#2ca02c" stroke="#237f23" stroke-width="0.35"/>
<polygon points="183.27,97.09 184.87,97.09 184.07,98.48" fill="#2ca02c" stroke="#237f23" stroke-width="0.35"/>
<polygon points="193.14,96.80 194.74,96.80 193.94,98.19" fill="#2ca02c" stroke="#237f23" stroke-width="0.35"/>
<polygon points="192.95,95.64 194.55,95.64 193.75,97.03" fill="#2ca02c" stroke="#237f23" stroke-width="0.35"/>
<polygon points="175.92,96.87 177.52,96.87 176.72,98.26" fill="#2ca02c" stroke="#237f23" stroke-width="0.35"/>
<polygon points="193.36,98.37 194.96,98.37 194.16,96.98" fill="#2ca02c" stroke="#237f23" stroke-width="0.35"/>
<polygon points="194.88,96.71 196.48,96.71 195.68,98.10" fill="#2ca02c" stroke="#237f23" stroke-width="0.35"/>
<polygon points="201.09,98.28 202.69,98.28 201.89,96.89" fill="#2ca02c" stroke="#237f23" stroke-width="0.35"/>
<polygon points="181.21,98.35 182.81,98.35 182.01,96.96" fill="#2ca02c" stroke="#237f23" stroke-width="0.35"/>
<polygon points="182.93,95.39 184.53,95.39 183.73,96.78" fill="#2ca02c" stroke="#237f23" stroke-width="0.35"/>
<polygon points="180.04,96.96 181.64,96.96 180.84,98.35" fill="#2ca02c" stroke="#237f23" stroke-width="0.35"/>
<polygon points="192.90,95.42 194.50,95.42 193.70,96.82" fill="#2ca02c" stroke="#237f23" stroke-width="0.35"/>
<polygon points="185.58,98.36 187.18,98.36 186.38,96.97" fill="#2ca02c" stroke="#237f23" stroke-width="0.35"/>
<polygon points="178.82,97.07 180.42,97.07 179.62,98.47" fill="#2ca02c" stroke="#237f23" stroke-width="0.35"/>
<polygon points="185.58,97.20 187.18,97.20 186.38,95.81" fill="#2ca02c" stroke="#237f23" stroke-width="0.35"/>
<polygon points="194.71,95.88 196.31,95.88 195.51,94.49" fill="#2ca02c" stroke="#237f23" stroke-width="0.35"/>
<polygon points="183.86,98.38 185.46,98.38 184.66,96.99" fill="#2ca02c" stroke="#237f23" stroke-width="0.35"/>
<polygon points="195.08,98.48 196.68,98.48 195.88,97.09" fill="#2ca02c" stroke="#237f23" stroke-width="0.35"/>
<polygon points="185.18,96.84 186.78,96.84 185.98,98.23" fill="#2ca02c" stroke="#237f23" stroke-width="0.35"/>
<polygon points="179.55,97.10 181.15,97.10 180.35,98.49" fill="#2ca02c" stroke="#237f23" stroke-width="0.35"/>
<polygon points="184.45,95.34 186.05,95.34 185.25,96.74" fill="#2ca02c" stroke="#237f23" stroke-width="0.35"/>
<polygon points="200.94,96.97 202.54,96.97 201.74,98.36" fill="#2ca02c" stroke="#237f23" stroke-width="0.35"/>
<polygon points="197.10,96.13 198.70,96.13 197.90,97.52" fill="#2ca02c" stroke="#237f23" stroke-width="0.35"/>
<polygon points="176.33,96.74 177.93,96.74 177.13,98.13" fill="#2ca02c" stroke="#237f23" stroke-width="0.35"/>
<polygon points="199.73,96.98 201.33,96.98 200.53,98.37" fill="#2ca02c" stroke="#237f23" stroke-width="0.35"/>
<polygon points="199.13,97.09 200.73,97.09 199.93,98.48" fill="#2ca02c" stroke="#237f23" stroke-width="0.35"/>
<polygon points="196.84,96.28 198.44,96.28 197.64,97.67" fill="#2ca02c" stroke="#237f23" stroke-width="0.35"/>
<polygon points="175.94,98.46 177.54,98.46 176.74,97.07" fill="#2ca02c" stroke="#237f23" stroke-width="0.35"/>
<polygon points="181.91,97.72 183.51,97.72 182.71,96.33" fill="#2ca02c" stroke="#237f23" stroke-width="0.35"/>
<polygon points="184.12,98.32 185.72,98.32 184.92,96.92" fill="#2ca02c" stroke="#237f23" stroke-width="0.35"/>
<polygon points="191.60,98.32 193.20,98.32 192.40,96.93" fill="#2ca02c" stroke="#237f23" stroke-width="0.35"/>
<polygon points="183.51,96.92 185.11,96.92 184.31,98.31" fill="#2ca02c" stroke="#237f23" stroke-width="0.35"/>
<polygon points="195.33,97.09 196.93,97.09 196.13,95.70" fill="#2ca02c" stroke="#237f23" stroke-width="0.35"/>
<polygon points="200.37,97.09 201.97,97.09 201.17,98.48" fill="#2ca02c" stroke="#237f23" stroke-width="0.35"/>
<polygon points="187.78,96.72 189.38,96.72 188.58,95.33" fill="#2ca02c" stroke="#237f23" stroke-width="0.35"/>
<polygon points="185.40,96.94 187.00,96.94 186.20,98.33" fill="#2ca02c" stroke="#237f23" stroke-width="0.35"/>
<polygon points="188.27,95.62 189.87,95.62 189.07,97.01" fill="#2ca02c" stroke="#237f23" stroke-width="0.35"/>
<polygon points="196.59,97.74 198.19,97.74 197.39,96.35" fill="#2ca02c" stroke="#237f23" stroke-width="0.35"/>
<polygon points="195.79,96.58 197.39,96.58 196.59,97.97" fill="#2ca02c" stroke="#237f23" stroke-width="0.35"/>
<polygon points="183.60,98.24 185.20,98.24 184.40,96.85" fill="#2ca02c" stroke="#237f23" stroke-width="0.35"/>
<polygon points="177.13,98.37 178.73,98.37 177.93,96.98" fill="#2ca02c" stroke="#237f23" stroke-width="0.35"/>
<polygon points="181.65,97.07 183.25,97.07 182.45,98.46" fill="#2ca02c" stroke="#237f23" stroke-width="0.35"/>
<polygon points="189.86,98.27 191.46,98.27 190.66,96.88" fill="#2ca02c" stroke="#237f23" stroke-width="0.35"/>
<polygon points="198.77,94.61 200.37,94.61 199.57,96.00" fill="#2ca02c" stroke="#237f23" stroke-width="0.35"/>
<polygon points="177.26,97.05 178.86,97.05 178.06,98.44" fill="#2ca02c" stroke="#237f23" stroke-width="0.35"/>
<polygon points="194.09,96.77 195.69,96.77 194.89,98.16" fill="#2ca02c" stroke="#237f23" stroke-width="0.35"/>
<line x1="204.0" y1="97.9" x2="231.5" y2="97.9" stroke="#86a67e" stroke-width="1.3"/>
<polygon points="214.71,97.95 216.31,97.95 215.51,96.56" fill="#98df8a" stroke="#86a67e" stroke-width="0.35"/>
<polygon points="223.62,97.44 225.22,97.44 224.42,96.04" fill="#98df8a" stroke="#86a67e" stroke-width="0.35"/>
<polygon points="206.76,96.07 208.36,96.07 207.56,97.46" fill="#98df8a" stroke="#86a67e" stroke-width="0.35"/>
<polygon points="218.75,98.23 220.35,98.23 219.55,96.84" fill="#98df8a" stroke="#86a67e" stroke-width="0.35"/>
<polygon points="208.86,96.94 210.46,96.94 209.66,98.34" fill="#98df8a" stroke="#86a67e" stroke-width="0.35"/>
<polygon points="207.62,97.28 209.22,97.28 208.42,95.89" fill="#98df8a" stroke="#86a67e" stroke-width="0.35"/>
<polygon points="212.28,98.21 213.88,98.21 213.08,96.82" fill="#98df8a" stroke="#86a67e" stroke-width="0.35"/>
<polygon points="217.15,98.35 218.75,98.35 217.95,96.96" fill="#98df8a" stroke="#86a67e" stroke-width="0.35"/>
<polygon points="221.07,94.49 222.67,94.49 221.87,95.88" fill="#98df8a" stroke="#86a67e" stroke-width="0.35"/>
<polygon points="216.27,97.53 217.87,97.53 217.07,96.14" fill="#98df8a" stroke="#86a67e" stroke-width="0.35"/>
<polygon points="228.10,97.08 229.70,97.08 228.90,98.47" fill="#98df8a" stroke="#86a67e" stroke-width="0.35"/>
<polygon points="206.71,98.38 208.31,98.38 207.51,96.99" fill="#98df8a" stroke="#86a67e" stroke-width="0.35"/>
<polygon points="219.19,95.60 220.79,95.60 219.99,96.99" fill="#98df8a" stroke="#86a67e" stroke-width="0.35"/>
<polygon points="226.80,96.77 228.40,96.77 227.60,98.16" fill="#98df8a" stroke="#86a67e" stroke-width="0.35"/>
<polygon points="224.42,95.46 226.02,95.46 225.22,96.85" fill="#98df8a" stroke="#86a67e" stroke-width="0.35"/>
<polygon points="219.54,96.56 221.14,96.56 220.34,97.95" fill="#98df8a" stroke="#86a67e" stroke-width="0.35"/>
<polygon points="213.42,97.02 215.02,97.02 214.22,98.41" fill="#98df8a" stroke="#86a67e" stroke-width="0.35"/>
<polygon points="210.36,97.98 211.96,97.98 211.16,96.59" fill="#98df8a" stroke="#86a67e" stroke-width="0.35"/>
<polygon points="208.97,97.10 210.57,97.10 209.77,98.49" fill="#98df8a" stroke="#86a67e" stroke-width="0.35"/>
<polygon points="221.75,96.99 223.35,96.99 222.55,98.38" fill="#98df8a" stroke="#86a67e" stroke-width="0.35"/>
<polygon points="208.97,97.60 210.57,97.60 209.77,96.21" fill="#98df8a" stroke="#86a67e" stroke-width="0.35"/>
<polygon points="205.20,97.04 206.80,97.04 206.00,98.44" fill="#98df8a" stroke="#86a67e" stroke-width="0.35"/>
<polygon points="218.30,96.53 219.90,96.53 219.10,97.92" fill="#98df8a" stroke="#86a67e" stroke-width="0.35"/>
<polygon points="207.90,96.43 209.50,96.43 208.70,97.82" fill="#98df8a" stroke="#86a67e" stroke-width="0.35"/>
<polygon points="211.12,98.29 212.72,98.29 211.92,96.90" fill="#98df8a" stroke="#86a67e" stroke-width="0.35"/>
<polygon points="211.90,96.63 213.50,96.63 212.70,98.02" fill="#98df8a" stroke="#86a67e" stroke-width="0.35"/>
<polygon points="214.70,97.37 216.30,97.37 215.50,95.98" fill="#98df8a" stroke="#86a67e" stroke-width="0.35"/>
<polygon points="213.29,98.37 214.89,98.37 214.09,96.98" fill="#98df8a" stroke="#86a67e" stroke-width="0.35"/>
<polygon points="208.98,98.49 210.58,98.49 209.78,97.10" fill="#98df8a" stroke="#86a67e" stroke-width="0.35"/>
<polygon points="214.90,96.13 216.50,96.13 215.70,97.53" fill="#98df8a" stroke="#86a67e" stroke-width="0.35"/>
<polygon points="227.25,96.75 228.85,96.75 228.05,98.15" fill="#98df8a" stroke="#86a67e" stroke-width="0.35"/>
<polygon points="203.90,98.04 205.50,98.04 204.70,96.65" fill="#98df8a" stroke="#86a67e" stroke-width="0.35"/>
<polygon points="227.97,98.44 229.57,98.44 228.77,97.05" fill="#98df8a" stroke="#86a67e" stroke-width="0.35"/>
<polygon points="213.48,96.71 215.08,96.71 214.28,98.10" fill="#98df8a" stroke="#86a67e" stroke-width="0.35"/>
<polygon points="211.12,98.08 212.72,98.08 211.92,96.69" fill="#98df8a" stroke="#86a67e" stroke-width="0.35"/>
<polygon points="206.43,98.11 208.03,98.11 207.23,96.72" fill="#98df8a" stroke="#86a67e" stroke-width="0.35"/>
<polygon points="229.51,96.98 231.11,96.98 230.31,98.37" fill="#98df8a" stroke="#86a67e" stroke-width="0.35"/>
<polygon points="228.87,95.01 230.47,95.01 229.67,96.40" fill="#98df8a" stroke="#86a67e" stroke-width="0.35"/>
<polygon points="204.94,95.63 206.54,95.63 205.74,97.02" fill="#98df8a" stroke="#86a67e" stroke-width="0.35"/>
<polygon points="227.82,97.95 229.42,97.95 228.62,96.56" fill="#98df8a" stroke="#86a67e" stroke-width="0.35"/>
<polygon points="207.81,96.23 209.41,96.23 208.61,97.63" fill="#98df8a" stroke="#86a67e" stroke-width="0.35"/>
<polygon points="214.38,97.44 215.98,97.44 215.18,96.05" fill="#98df8a" stroke="#86a67e" stroke-width="0.35"/>
<polygon points="208.42,96.96 210.02,96.96 209.22,98.36" fill="#98df8a" stroke="#86a67e" stroke-width="0.35"/>
<polygon points="217.43,96.83 219.03,96.83 218.23,98.22" fill="#98df8a" stroke="#86a67e" stroke-width="0.35"/>
<polygon points="210.15,97.77 211.75,97.77 210.95,96.37" fill="#98df8a" stroke="#86a67e" stroke-width="0.35"/>
<polygon points="204.61,98.03 206.21,98.03 205.41,96.64" fill="#98df8a" stroke="#86a67e" stroke-width="0.35"/>
<polygon points="204.53,96.07 206.13,96.07 205.33,97.47" fill="#98df8a" stroke="#86a67e" stroke-width="0.35"/>
<polygon points="219.63,98.04 221.23,98.04 220.43,96.65" fill="#98df8a" stroke="#86a67e" stroke-width="0.35"/>
<polygon points="211.74,98.19 213.34,98.19 212.54,96.80" fill="#98df8a" stroke="#86a67e" stroke-width="0.35"/>
<polygon points="214.95,96.50 216.55,96.50 215.75,97.89" fill="#98df8a" stroke="#86a67e" stroke-width="0.35"/>
<polygon points="215.29,98.48 216.89,98.48 216.09,97.09" fill="#98df8a" stroke="#86a67e" stroke-width="0.35"/>
<polygon points="216.67,98.34 218.27,98.34 217.47,96.95" fill="#98df8a" stroke="#86a67e" stroke-width="0.35"/>
<polygon points="224.48,96.76 226.08,96.76 225.28,98.15" fill="#98df8a" stroke="#86a67e" stroke-width="0.35"/>
<polygon points="216.23,97.04 217.83,97.04 217.03,98.43" fill="#98df8a" stroke="#86a67e" stroke-width="0.35"/>
<polygon points="215.08,97.05 216.68,97.05 215.88,98.44" fill="#98df8a" stroke="#86a67e" stroke-width="0.35"/>
<line x1="232.5" y1="97.9" x2="257.5" y2="97.9" stroke="#ab1f20" stroke-width="1.3"/>
<polygon points="244.45,98.47 246.05,98.47 245.25,97.08" fill="#d62728" stroke="#ab1f20" stroke-width="0.35"/>
<polygon points="234.01,97.75 235.61,97.75 234.81,96.36" fill="#d62728" stroke="#ab1f20" stroke-width="0.35"/>
<polygon points="244.48,98.46 246.08,98.46 245.28,97.07" fill="#d62728" stroke="#ab1f20" stroke-width="0.35"/>
<polygon points="241.22,95.40 242.82,95.40 242.02,96.79" fill="#d62728" stroke="#ab1f20" stroke-width="0.35"/>
<polygon points="252.91,95.88 254.51,95.88 253.71,94.49" fill="#d62728" stroke="#ab1f20" stroke-width="0.35"/>
<polygon points="251.89,98.37 253.49,98.37 252.69,96.98" fill="#d62728" stroke="#ab1f20" stroke-width="0.35"/>
<polygon points="244.00,96.72 245.60,96.72 244.80,95.33" fill="#d62728" stroke="#ab1f20" stroke-width="0.35"/>
<polygon points="236.03,97.62 237.63,97.62 236.83,96.23" fill="#d62728" stroke="#ab1f20" stroke-width="0.35"/>
<polygon points="233.60,98.25 235.20,98.25 234.40,96.86" fill="#d62728" stroke="#ab1f20" stroke-width="0.35"/>
<polygon points="235.87,95.82 237.47,95.82 236.67,97.21" fill="#d62728" stroke="#ab1f20" stroke-width="0.35"/>
<polygon points="251.90,98.41 253.50,98.41 252.70,97.02" fill="#d62728" stroke="#ab1f20" stroke-width="0.35"/>
<polygon points="254.45,96.97 256.05,96.97 255.25,98.36" fill="#d62728" stroke="#ab1f20" stroke-width="0.35"/>
<polygon points="244.35,96.89 245.95,96.89 245.15,98.28" fill="#d62728" stroke="#ab1f20" stroke-width="0.35"/>
<polygon points="236.44,98.40 238.04,98.40 237.24,97.00" fill="#d62728" stroke="#ab1f20" stroke-width="0.35"/>
<polygon points="248.58,95.83 250.18,95.83 249.38,97.22" fill="#d62728" stroke="#ab1f20" stroke-width="0.35"/>
<polygon points="251.15,98.43 252.75,98.43 251.95,97.03" fill="#d62728" stroke="#ab1f20" stroke-width="0.35"/>
<polygon points="247.53,98.24 249.13,98.24 248.33,96.85" fill="#d62728" stroke="#ab1f20" stroke-width="0.35"/>
<polygon points="245.55,98.01 247.15,98.01 246.35,96.61" fill="#d62728" stroke="#ab1f20" stroke-width="0.35"/>
<polygon points="234.55,95.88 236.15,95.88 235.35,94.49" fill="#d62728" stroke="#ab1f20" stroke-width="0.35"/>
<polygon points="241.62,96.20 243.22,96.20 242.42,97.59" fill="#d62728" stroke="#ab1f20" stroke-width="0.35"/>
<polygon points="256.17,96.62 257.77,96.62 256.97,98.01" fill="#d62728" stroke="#ab1f20" stroke-width="0.35"/>
<polygon points="250.66,96.77 252.26,96.77 251.46,98.17" fill="#d62728" stroke="#ab1f20" stroke-width="0.35"/>
<polygon points="250.14,98.47 251.74,98.47 250.94,97.08" fill="#d62728" stroke="#ab1f20" stroke-width="0.35"/>
<polygon points="238.19,97.92 239.79,97.92 238.99,96.53" fill="#d62728" stroke="#ab1f20" stroke-width="0.35"/>
<polygon points="246.30,96.49 247.90,96.49 247.10,97.88" fill="#d62728" stroke="#ab1f20" stroke-width="0.35"/>
<polygon points="232.04,97.08 233.64,97.08 232.84,98.48" fill="#d62728" stroke="#ab1f20" stroke-width="0.35"/>
<polygon points="247.03,98.18 248.63,98.18 247.83,96.78" fill="#d62728" stroke="#ab1f20" stroke-width="0.35"/>
<polygon points="253.85,97.02 255.45,97.02 254.65,98.42" fill="#d62728" stroke="#ab1f20" stroke-width="0.35"/>
<polygon points="247.94,97.09 249.54,97.09 248.74,98.48" fill="#d62728" stroke="#ab1f20" stroke-width="0.35"/>
<polygon points="240.66,97.04 242.26,97.04 241.46,98.43" fill="#d62728" stroke="#ab1f20" stroke-width="0.35"/>
<polygon points="237.47,98.00 239.07,98.00 238.27,96.61" fill="#d62728" stroke="#ab1f20" stroke-width="0.35"/>
<polygon points="236.98,96.55 238.58,96.55 237.78,97.94" fill="#d62728" stroke="#ab1f20" stroke-width="0.35"/>
<polygon points="235.29,95.55 236.89,95.55 236.09,96.94" fill="#d62728" stroke="#ab1f20" stroke-width="0.35"/>
<polygon points="235.64,98.44 237.24,98.44 236.44,97.05" fill="#d62728" stroke="#ab1f20" stroke-width="0.35"/>
<polygon points="253.26,96.24 254.86,96.24 254.06,97.63" fill="#d62728" stroke="#ab1f20" stroke-width="0.35"/>
<polygon points="238.45,98.49 240.05,98.49 239.25,97.10" fill="#d62728" stroke="#ab1f20" stroke-width="0.35"/>
<polygon points="245.72,98.25 247.32,98.25 246.52,96.86" fill="#d62728" stroke="#ab1f20" stroke-width="0.35"/>
<polygon points="242.83,96.93 244.43,96.93 243.63,95.54" fill="#d62728" stroke="#ab1f20" stroke-width="0.35"/>
<polygon points="238.06,95.78 239.66,95.78 238.86,97.17" fill="#d62728" stroke="#ab1f20" stroke-width="0.35"/>
<polygon points="244.97,96.81 246.57,96.81 245.77,98.20" fill="#d62728" stroke="#ab1f20" stroke-width="0.35"/>
<polygon points="233.42,96.25 235.02,96.25 234.22,97.64" fill="#d62728" stroke="#ab1f20" stroke-width="0.35"/>
<polygon points="245.44,95.51 247.04,95.51 246.24,96.90" fill="#d62728" stroke="#ab1f20" stroke-width="0.35"/>
<polygon points="236.87,97.97 238.47,97.97 237.67,96.57" fill="#d62728" stroke="#ab1f20" stroke-width="0.35"/>
<polygon points="247.65,96.16 249.25,96.16 248.45,97.55" fill="#d62728" stroke="#ab1f20" stroke-width="0.35"/>
<polygon points="239.55,96.90 241.15,96.90 240.35,98.29" fill="#d62728" stroke="#ab1f20" stroke-width="0.35"/>
<polygon points="253.70,97.63 255.30,97.63 254.50,96.24" fill="#d62728" stroke="#ab1f20" stroke-width="0.35"/>
<polygon points="232.15,97.44 233.75,97.44 232.95,96.05" fill="#d62728" stroke="#ab1f20" stroke-width="0.35"/>
<polygon points="243.35,96.34 244.95,96.34 244.15,97.73" fill="#d62728" stroke="#ab1f20" stroke-width="0.35"/>
<polygon points="237.51,97.04 239.11,97.04 238.31,98.43" fill="#d62728" stroke="#ab1f20" stroke-width="0.35"/>
<polygon points="232.95,98.26 234.55,98.26 233.75,96.87" fill="#d62728" stroke="#ab1f20" stroke-width="0.35"/>
<polygon points="248.96,97.44 250.56,97.44 249.76,96.05" fill="#d62728" stroke="#ab1f20" stroke-width="0.35"/>
<polygon points="238.49,96.65 240.09,96.65 239.29,98.04" fill="#d62728" stroke="#ab1f20" stroke-width="0.35"/>
<polygon points="251.24,96.69 252.84,96.69 252.04,98.08" fill="#d62728" stroke="#ab1f20" stroke-width="0.35"/>
<polygon points="247.66,95.21 249.26,95.21 248.46,96.60" fill="#d62728" stroke="#ab1f20" stroke-width="0.35"/>
<polygon points="253.47,97.10 255.07,97.10 254.27,98.49" fill="#d62728" stroke="#ab1f20" stroke-width="0.35"/>
<line x1="258.5" y1="97.9" x2="287.0" y2="97.9" stroke="#b88484" stroke-width="1.3"/>
<polygon points="264.59,97.73 266.19,97.73 265.39,96.33" fill="#ff9896" stroke="#b88484" stroke-width="0.35"/>
<polygon points="278.82,98.27 280.42,98.27 279.62,96.88" fill="#ff9896" stroke="#b88484" stroke-width="0.35"/>
<polygon points="267.17,98.34 268.77,98.34 267.97,96.95" fill="#ff9896" stroke="#b88484" stroke-width="0.35"/>
<polygon points="275.60,97.83 277.20,97.83 276.40,96.44" fill="#ff9896" stroke="#b88484" stroke-width="0.35"/>
<polygon points="285.31,98.14 286.91,98.14 286.11,96.75" fill="#ff9896" stroke="#b88484" stroke-width="0.35"/>
<polygon points="277.46,96.00 279.06,96.00 278.26,97.39" fill="#ff9896" stroke="#b88484" stroke-width="0.35"/>
<polygon points="278.22,96.63 279.82,96.63 279.02,98.02" fill="#ff9896" stroke="#b88484" stroke-width="0.35"/>
<polygon points="263.91,96.55 265.51,96.55 264.71,97.95" fill="#ff9896" stroke="#b88484" stroke-width="0.35"/>
<polygon points="283.41,97.02 285.01,97.02 284.21,98.41" fill="#ff9896" stroke="#b88484" stroke-width="0.35"/>
<polygon points="260.98,95.61 262.58,95.61 261.78,97.00" fill="#ff9896" stroke="#b88484" stroke-width="0.35"/>
<polygon points="261.96,97.09 263.56,97.09 262.76,98.48" fill="#ff9896" stroke="#b88484" stroke-width="0.35"/>
<polygon points="277.32,97.93 278.92,97.93 278.12,96.54" fill="#ff9896" stroke="#b88484" stroke-width="0.35"/>
<polygon points="278.56,98.46 280.16,98.46 279.36,97.07" fill="#ff9896" stroke="#b88484" stroke-width="0.35"/>
<polygon points="268.14,97.53 269.74,97.53 268.94,96.14" fill="#ff9896" stroke="#b88484" stroke-width="0.35"/>
<polygon points="282.87,98.46 284.47,98.46 283.67,97.07" fill="#ff9896" stroke="#b88484" stroke-width="0.35"/>
<polygon points="283.51,95.47 285.11,95.47 284.31,96.86" fill="#ff9896" stroke="#b88484" stroke-width="0.35"/>
<polygon points="263.74,97.04 265.34,97.04 264.54,98.43" fill="#ff9896" stroke="#b88484" stroke-width="0.35"/>
<polygon points="281.65,97.55 283.25,97.55 282.45,96.16" fill="#ff9896" stroke="#b88484" stroke-width="0.35"/>
<polygon points="281.02,96.54 282.62,96.54 281.82,97.93" fill="#ff9896" stroke="#b88484" stroke-width="0.35"/>
<polygon points="260.79,98.44 262.39,98.44 261.59,97.05" fill="#ff9896" stroke="#b88484" stroke-width="0.35"/>
<polygon points="263.72,96.89 265.32,96.89 264.52,98.28" fill="#ff9896" stroke="#b88484" stroke-width="0.35"/>
<polygon points="258.58,96.94 260.18,96.94 259.38,98.33" fill="#ff9896" stroke="#b88484" stroke-width="0.35"/>
<polygon points="277.97,96.84 279.57,96.84 278.77,98.24" fill="#ff9896" stroke="#b88484" stroke-width="0.35"/>
<polygon points="284.90,98.10 286.50,98.10 285.70,96.71" fill="#ff9896" stroke="#b88484" stroke-width="0.35"/>
<polygon points="275.25,97.09 276.85,97.09 276.05,98.48" fill="#ff9896" stroke="#b88484" stroke-width="0.35"/>
<polygon points="270.18,96.27 271.78,96.27 270.98,97.66" fill="#ff9896" stroke="#b88484" stroke-width="0.35"/>
<polygon points="277.66,96.67 279.26,96.67 278.46,98.06" fill="#ff9896" stroke="#b88484" stroke-width="0.35"/>
<polygon points="282.06,98.44 283.66,98.44 282.86,97.05" fill="#ff9896" stroke="#b88484" stroke-width="0.35"/>
<polygon points="262.75,97.10 264.35,97.10 263.55,98.50" fill="#ff9896" stroke="#b88484" stroke-width="0.35"/>
<polygon points="279.26,94.95 280.86,94.95 280.06,96.34" fill="#ff9896" stroke="#b88484" stroke-width="0.35"/>
<polygon points="271.69,98.11 273.29,98.11 272.49,96.72" fill="#ff9896" stroke="#b88484" stroke-width="0.35"/>
<polygon points="263.15,96.72 264.75,96.72 263.95,98.11" fill="#ff9896" stroke="#b88484" stroke-width="0.35"/>
<polygon points="281.21,98.33 282.81,98.33 282.01,96.93" fill="#ff9896" stroke="#b88484" stroke-width="0.35"/>
<polygon points="265.92,98.36 267.52,98.36 266.72,96.97" fill="#ff9896" stroke="#b88484" stroke-width="0.35"/>
<polygon points="271.90,98.43 273.50,98.43 272.70,97.04" fill="#ff9896" stroke="#b88484" stroke-width="0.35"/>
<polygon points="260.26,97.62 261.86,97.62 261.06,96.23" fill="#ff9896" stroke="#b88484" stroke-width="0.35"/>
<polygon points="279.96,96.55 281.56,96.55 280.76,97.94" fill="#ff9896" stroke="#b88484" stroke-width="0.35"/>
<polygon points="269.20,98.21 270.80,98.21 270.00,96.82" fill="#ff9896" stroke="#b88484" stroke-width="0.35"/>
<polygon points="260.40,95.86 262.00,95.86 261.20,97.26" fill="#ff9896" stroke="#b88484" stroke-width="0.35"/>
<polygon points="263.75,98.32 265.35,98.32 264.55,96.93" fill="#ff9896" stroke="#b88484" stroke-width="0.35"/>
<polygon points="271.98,98.23 273.58,98.23 272.78,96.83" fill="#ff9896" stroke="#b88484" stroke-width="0.35"/>
<polygon points="264.52,98.15 266.12,98.15 265.32,96.75" fill="#ff9896" stroke="#b88484" stroke-width="0.35"/>
<polygon points="279.05,97.71 280.65,97.71 279.85,96.31" fill="#ff9896" stroke="#b88484" stroke-width="0.35"/>
<polygon points="267.72,96.88 269.32,96.88 268.52,98.27" fill="#ff9896" stroke="#b88484" stroke-width="0.35"/>
<polygon points="281.52,97.88 283.12,97.88 282.32,96.49" fill="#ff9896" stroke="#b88484" stroke-width="0.35"/>
<polygon points="262.73,98.17 264.33,98.17 263.53,96.78" fill="#ff9896" stroke="#b88484" stroke-width="0.35"/>
<polygon points="274.16,97.03 275.76,97.03 274.96,98.42" fill="#ff9896" stroke="#b88484" stroke-width="0.35"/>
<polygon points="282.70,96.95 284.30,96.95 283.50,98.34" fill="#ff9896" stroke="#b88484" stroke-width="0.35"/>
<polygon points="266.41,97.81 268.01,97.81 267.21,96.42" fill="#ff9896" stroke="#b88484" stroke-width="0.35"/>
<polygon points="262.31,97.01 263.91,97.01 263.11,98.40" fill="#ff9896" stroke="#b88484" stroke-width="0.35"/>
<polygon points="267.11,96.69 268.71,96.69 267.91,98.08" fill="#ff9896" stroke="#b88484" stroke-width="0.35"/>
<polygon points="267.15,98.38 268.75,98.38 267.95,96.99" fill="#ff9896" stroke="#b88484" stroke-width="0.35"/>
<polygon points="278.33,98.44 279.93,98.44 279.13,97.04" fill="#ff9896" stroke="#b88484" stroke-width="0.35"/>
<polygon points="260.84,98.22 262.44,98.22 261.64,96.83" fill="#ff9896" stroke="#b88484" stroke-width="0.35"/>
<polygon points="280.18,96.36 281.78,96.36 280.98,97.75" fill="#ff9896" stroke="#b88484" stroke-width="0.35"/>
<line x1="288.0" y1="97.9" x2="314.0" y2="97.9" stroke="#6e4f92" stroke-width="1.3"/>
<polygon points="292.48,96.53 294.08,96.53 293.28,97.92" fill="#9467bd" stroke="#6e4f92" stroke-width="0.35"/>
<polygon points="292.74,96.83 294.34,96.83 293.54,98.22" fill="#9467bd" stroke="#6e4f92" stroke-width="0.35"/>
<polygon points="297.64,97.61 299.24,97.61 298.44,96.22" fill="#9467bd" stroke="#6e4f92" stroke-width="0.35"/>
<polygon points="300.21,96.54 301.81,96.54 301.01,97.93" fill="#9467bd" stroke="#6e4f92" stroke-width="0.35"/>
<polygon points="291.10,96.58 292.70,96.58 291.90,97.97" fill="#9467bd" stroke="#6e4f92" stroke-width="0.35"/>
<polygon points="306.32,95.76 307.92,95.76 307.12,97.15" fill="#9467bd" stroke="#6e4f92" stroke-width="0.35"/>
<polygon points="302.08,96.32 303.68,96.32 302.88,97.71" fill="#9467bd" stroke="#6e4f92" stroke-width="0.35"/>
<polygon points="293.31,97.77 294.91,97.77 294.11,96.38" fill="#9467bd" stroke="#6e4f92" stroke-width="0.35"/>
<polygon points="307.16,97.82 308.76,97.82 307.96,96.42" fill="#9467bd" stroke="#6e4f92" stroke-width="0.35"/>
<polygon points="304.76,96.52 306.36,96.52 305.56,97.92" fill="#9467bd" stroke="#6e4f92" stroke-width="0.35"/>
<polygon points="295.45,96.54 297.05,96.54 296.25,97.94" fill="#9467bd" stroke="#6e4f92" stroke-width="0.35"/>
<polygon points="298.16,97.63 299.76,97.63 298.96,96.24" fill="#9467bd" stroke="#6e4f92" stroke-width="0.35"/>
<polygon points="303.49,96.94 305.09,96.94 304.29,98.33" fill="#9467bd" stroke="#6e4f92" stroke-width="0.35"/>
<polygon points="299.06,96.55 300.66,96.55 299.86,97.95" fill="#9467bd" stroke="#6e4f92" stroke-width="0.35"/>
<polygon points="304.65,95.60 306.25,95.60 305.45,96.99" fill="#9467bd" stroke="#6e4f92" stroke-width="0.35"/>
<polygon points="304.12,96.25 305.72,96.25 304.92,97.64" fill="#9467bd" stroke="#6e4f92" stroke-width="0.35"/>
<polygon points="299.94,95.03 301.54,95.03 300.74,96.42" fill="#9467bd" stroke="#6e4f92" stroke-width="0.35"/>
<polygon points="301.30,98.40 302.90,98.40 302.10,97.00" fill="#9467bd" stroke="#6e4f92" stroke-width="0.35"/>
<polygon points="311.39,96.69 312.99,96.69 312.19,98.08" fill="#9467bd" stroke="#6e4f92" stroke-width="0.35"/>
<polygon points="302.09,98.06 303.69,98.06 302.89,96.66" fill="#9467bd" stroke="#6e4f92" stroke-width="0.35"/>
<polygon points="300.51,97.92 302.11,97.92 301.31,96.53" fill="#9467bd" stroke="#6e4f92" stroke-width="0.35"/>
<polygon points="300.75,98.20 302.35,98.20 301.55,96.81" fill="#9467bd" stroke="#6e4f92" stroke-width="0.35"/>
<polygon points="292.84,96.45 294.44,96.45 293.64,97.84" fill="#9467bd" stroke="#6e4f92" stroke-width="0.35"/>
<polygon points="306.87,98.42 308.47,98.42 307.67,97.03" fill="#9467bd" stroke="#6e4f92" stroke-width="0.35"/>
<polygon points="296.53,97.07 298.13,97.07 297.33,98.46" fill="#9467bd" stroke="#6e4f92" stroke-width="0.35"/>
<polygon points="297.65,97.10 299.25,97.10 298.45,98.49" fill="#9467bd" stroke="#6e4f92" stroke-width="0.35"/>
<polygon points="298.18,96.43 299.78,96.43 298.98,97.82" fill="#9467bd" stroke="#6e4f92" stroke-width="0.35"/>
<polygon points="294.23,98.35 295.83,98.35 295.03,96.96" fill="#9467bd" stroke="#6e4f92" stroke-width="0.35"/>
<polygon points="311.37,96.68 312.97,96.68 312.17,98.07" fill="#9467bd" stroke="#6e4f92" stroke-width="0.35"/>
<polygon points="307.86,96.82 309.46,96.82 308.66,98.21" fill="#9467bd" stroke="#6e4f92" stroke-width="0.35"/>
<polygon points="290.78,97.65 292.38,97.65 291.58,96.26" fill="#9467bd" stroke="#6e4f92" stroke-width="0.35"/>
<polygon points="303.61,98.14 305.21,98.14 304.41,96.75" fill="#9467bd" stroke="#6e4f92" stroke-width="0.35"/>
<polygon points="293.24,95.23 294.84,95.23 294.04,96.62" fill="#9467bd" stroke="#6e4f92" stroke-width="0.35"/>
<polygon points="303.73,97.53 305.33,97.53 304.53,96.14" fill="#9467bd" stroke="#6e4f92" stroke-width="0.35"/>
<polygon points="299.39,98.30 300.99,98.30 300.19,96.91" fill="#9467bd" stroke="#6e4f92" stroke-width="0.35"/>
<polygon points="290.68,96.09 292.28,96.09 291.48,97.48" fill="#9467bd" stroke="#6e4f92" stroke-width="0.35"/>
<polygon points="309.11,96.93 310.71,96.93 309.91,98.32" fill="#9467bd" stroke="#6e4f92" stroke-width="0.35"/>
<polygon points="293.94,96.79 295.54,96.79 294.74,98.18" fill="#9467bd" stroke="#6e4f92" stroke-width="0.35"/>
<polygon points="287.57,96.38 289.17,96.38 288.37,97.77" fill="#9467bd" stroke="#6e4f92" stroke-width="0.35"/>
<polygon points="293.72,96.90 295.32,96.90 294.52,98.29" fill="#9467bd" stroke="#6e4f92" stroke-width="0.35"/>
<polygon points="298.38,97.92 299.98,97.92 299.18,96.53" fill="#9467bd" stroke="#6e4f92" stroke-width="0.35"/>
<polygon points="296.71,97.00 298.31,97.00 297.51,95.61" fill="#9467bd" stroke="#6e4f92" stroke-width="0.35"/>
<polygon points="288.95,97.50 290.55,97.50 289.75,96.11" fill="#9467bd" stroke="#6e4f92" stroke-width="0.35"/>
<polygon points="307.41,98.41 309.01,98.41 308.21,97.02" fill="#9467bd" stroke="#6e4f92" stroke-width="0.35"/>
<polygon points="303.58,97.10 305.18,97.10 304.38,98.49" fill="#9467bd" stroke="#6e4f92" stroke-width="0.35"/>
<polygon points="311.67,96.50 313.27,96.50 312.47,97.89" fill="#9467bd" stroke="#6e4f92" stroke-width="0.35"/>
<polygon points="290.08,97.02 291.68,97.02 290.88,98.41" fill="#9467bd" stroke="#6e4f92" stroke-width="0.35"/>
<polygon points="307.22,96.86 308.82,96.86 308.02,98.26" fill="#9467bd" stroke="#6e4f92" stroke-width="0.35"/>
<polygon points="310.46,96.22 312.06,96.22 311.26,97.61" fill="#9467bd" stroke="#6e4f92" stroke-width="0.35"/>
<polygon points="310.13,97.97 311.73,97.97 310.93,96.57" fill="#9467bd" stroke="#6e4f92" stroke-width="0.35"/>
<polygon points="304.48,97.23 306.08,97.23 305.28,95.84" fill="#9467bd" stroke="#6e4f92" stroke-width="0.35"/>
<polygon points="308.81,98.37 310.41,98.37 309.61,96.98" fill="#9467bd" stroke="#6e4f92" stroke-width="0.35"/>
<polygon points="300.98,96.34 302.58,96.34 301.78,97.73" fill="#9467bd" stroke="#6e4f92" stroke-width="0.35"/>
<polygon points="309.92,96.65 311.52,96.65 310.72,98.04" fill="#9467bd" stroke="#6e4f92" stroke-width="0.35"/>
<polygon points="293.45,97.02 295.05,97.02 294.25,98.41" fill="#9467bd" stroke="#6e4f92" stroke-width="0.35"/>
<line x1="315.0" y1="97.9" x2="343.0" y2="97.9" stroke="#9a90a6" stroke-width="1.3"/>
<polygon points="316.10,96.75 317.70,96.75 316.90,98.14" fill="#c5b0d5" stroke="#9a90a6" stroke-width="0.35"/>
<polygon points="327.96,98.11 329.56,98.11 328.76,96.71" fill="#c5b0d5" stroke="#9a90a6" stroke-width="0.35"/>
<polygon points="338.14,98.49 339.74,98.49 338.94,97.10" fill="#c5b0d5" stroke="#9a90a6" stroke-width="0.35"/>
<polygon points="327.32,98.03 328.92,98.03 328.12,96.64" fill="#c5b0d5" stroke="#9a90a6" stroke-width="0.35"/>
<polygon points="337.53,96.84 339.13,96.84 338.33,98.23" fill="#c5b0d5" stroke="#9a90a6" stroke-width="0.35"/>
<polygon points="340.82,98.45 342.42,98.45 341.62,97.06" fill="#c5b0d5" stroke="#9a90a6" stroke-width="0.35"/>
<polygon points="331.93,98.48 333.53,98.48 332.73,97.09" fill="#c5b0d5" stroke="#9a90a6" stroke-width="0.35"/>
<polygon points="333.20,95.59 334.80,95.59 334.00,96.98" fill="#c5b0d5" stroke="#9a90a6" stroke-width="0.35"/>
<polygon points="341.40,96.70 343.00,96.70 342.20,98.09" fill="#c5b0d5" stroke="#9a90a6" stroke-width="0.35"/>
<polygon points="339.09,98.48 340.69,98.48 339.89,97.08" fill="#c5b0d5" stroke="#9a90a6" stroke-width="0.35"/>
<polygon points="331.63,98.26 333.23,98.26 332.43,96.87" fill="#c5b0d5" stroke="#9a90a6" stroke-width="0.35"/>
<polygon points="324.53,98.13 326.13,98.13 325.33,96.74" fill="#c5b0d5" stroke="#9a90a6" stroke-width="0.35"/>
<polygon points="335.61,96.97 337.21,96.97 336.41,98.36" fill="#c5b0d5" stroke="#9a90a6" stroke-width="0.35"/>
<polygon points="326.07,98.04 327.67,98.04 326.87,96.65" fill="#c5b0d5" stroke="#9a90a6" stroke-width="0.35"/>
<polygon points="322.52,96.11 324.12,96.11 323.32,97.50" fill="#c5b0d5" stroke="#9a90a6" stroke-width="0.35"/>
<polygon points="328.30,98.32 329.90,98.32 329.10,96.92" fill="#c5b0d5" stroke="#9a90a6" stroke-width="0.35"/>
<polygon points="341.21,97.90 342.81,97.90 342.01,96.50" fill="#c5b0d5" stroke="#9a90a6" stroke-width="0.35"/>
<polygon points="323.57,96.89 325.17,96.89 324.37,98.28" fill="#c5b0d5" stroke="#9a90a6" stroke-width="0.35"/>
<polygon points="330.57,97.93 332.17,97.93 331.37,96.53" fill="#c5b0d5" stroke="#9a90a6" stroke-width="0.35"/>
<polygon points="315.60,97.77 317.20,97.77 316.40,96.38" fill="#c5b0d5" stroke="#9a90a6" stroke-width="0.35"/>
<polygon points="329.44,97.08 331.04,97.08 330.24,98.47" fill="#c5b0d5" stroke="#9a90a6" stroke-width="0.35"/>
<polygon points="314.67,98.38 316.27,98.38 315.47,96.98" fill="#c5b0d5" stroke="#9a90a6" stroke-width="0.35"/>
<polygon points="331.18,97.89 332.78,97.89 331.98,96.50" fill="#c5b0d5" stroke="#9a90a6" stroke-width="0.35"/>
<polygon points="339.43,97.96 341.03,97.96 340.23,96.57" fill="#c5b0d5" stroke="#9a90a6" stroke-width="0.35"/>
<polygon points="331.67,97.82 333.27,97.82 332.47,96.43" fill="#c5b0d5" stroke="#9a90a6" stroke-width="0.35"/>
<polygon points="333.16,98.36 334.76,98.36 333.96,96.97" fill="#c5b0d5" stroke="#9a90a6" stroke-width="0.35"/>
<polygon points="327.05,96.29 328.65,96.29 327.85,97.68" fill="#c5b0d5" stroke="#9a90a6" stroke-width="0.35"/>
<polygon points="319.47,98.47 321.07,98.47 320.27,97.08" fill="#c5b0d5" stroke="#9a90a6" stroke-width="0.35"/>
<polygon points="339.55,96.50 341.15,96.50 340.35,97.89" fill="#c5b0d5" stroke="#9a90a6" stroke-width="0.35"/>
<polygon points="337.04,97.62 338.64,97.62 337.84,96.23" fill="#c5b0d5" stroke="#9a90a6" stroke-width="0.35"/>
<polygon points="321.57,96.90 323.17,96.90 322.37,98.29" fill="#c5b0d5" stroke="#9a90a6" stroke-width="0.35"/>
<polygon points="323.23,98.18 324.83,98.18 324.03,96.79" fill="#c5b0d5" stroke="#9a90a6" stroke-width="0.35"/>
<polygon points="340.09,98.46 341.69,98.46 340.89,97.07" fill="#c5b0d5" stroke="#9a90a6" stroke-width="0.35"/>
<polygon points="315.58,98.42 317.18,98.42 316.38,97.03" fill="#c5b0d5" stroke="#9a90a6" stroke-width="0.35"/>
<polygon points="330.26,95.69 331.86,95.69 331.06,97.08" fill="#c5b0d5" stroke="#9a90a6" stroke-width="0.35"/>
<polygon points="314.89,98.22 316.49,98.22 315.69,96.83" fill="#c5b0d5" stroke="#9a90a6" stroke-width="0.35"/>
<polygon points="340.19,94.87 341.79,94.87 340.99,96.26" fill="#c5b0d5" stroke="#9a90a6" stroke-width="0.35"/>
<polygon points="325.80,98.44 327.40,98.44 326.60,97.04" fill="#c5b0d5" stroke="#9a90a6" stroke-width="0.35"/>
<polygon points="320.32,97.01 321.92,97.01 321.12,98.40" fill="#c5b0d5" stroke="#9a90a6" stroke-width="0.35"/>
<polygon points="314.63,96.45 316.23,96.45 315.43,97.85" fill="#c5b0d5" stroke="#9a90a6" stroke-width="0.35"/>
<polygon points="340.98,98.44 342.58,98.44 341.78,97.05" fill="#c5b0d5" stroke="#9a90a6" stroke-width="0.35"/>
<polygon points="318.03,98.49 319.63,98.49 318.83,97.09" fill="#c5b0d5" stroke="#9a90a6" stroke-width="0.35"/>
<polygon points="321.14,96.36 322.74,96.36 321.94,97.75" fill="#c5b0d5" stroke="#9a90a6" stroke-width="0.35"/>
<polygon points="315.87,97.66 317.47,97.66 316.67,96.26" fill="#c5b0d5" stroke="#9a90a6" stroke-width="0.35"/>
<polygon points="337.94,96.36 339.54,96.36 338.74,97.76" fill="#c5b0d5" stroke="#9a90a6" stroke-width="0.35"/>
<polygon points="331.72,96.41 333.32,96.41 332.52,97.80" fill="#c5b0d5" stroke="#9a90a6" stroke-width="0.35"/>
<polygon points="340.05,98.33 341.65,98.33 340.85,96.94" fill="#c5b0d5" stroke="#9a90a6" stroke-width="0.35"/>
<polygon points="334.15,97.10 335.75,97.10 334.95,98.49" fill="#c5b0d5" stroke="#9a90a6" stroke-width="0.35"/>
<polygon points="332.33,96.14 333.93,96.14 333.13,97.54" fill="#c5b0d5" stroke="#9a90a6" stroke-width="0.35"/>
<polygon points="323.02,96.37 324.62,96.37 323.82,97.76" fill="#c5b0d5" stroke="#9a90a6" stroke-width="0.35"/>
<polygon points="338.09,96.73 339.69,96.73 338.89,98.12" fill="#c5b0d5" stroke="#9a90a6" stroke-width="0.35"/>
<polygon points="324.57,96.62 326.17,96.62 325.37,98.01" fill="#c5b0d5" stroke="#9a90a6" stroke-width="0.35"/>
<polygon points="333.05,98.41 334.65,98.41 333.85,97.02" fill="#c5b0d5" stroke="#9a90a6" stroke-width="0.35"/>
<polygon points="324.45,97.91 326.05,97.91 325.25,96.52" fill="#c5b0d5" stroke="#9a90a6" stroke-width="0.35"/>
<polygon points="325.95,98.22 327.55,98.22 326.75,96.83" fill="#c5b0d5" stroke="#9a90a6" stroke-width="0.35"/>
<line x1="344.0" y1="97.9" x2="374.0" y2="97.9" stroke="#6e4338" stroke-width="1.3"/>
<polygon points="371.28,97.63 372.88,97.63 372.08,96.24" fill="#8c564b" stroke="#6e4338" stroke-width="0.35"/>
<polygon points="352.10,98.46 353.70,98.46 352.90,97.07" fill="#8c564b" stroke="#6e4338" stroke-width="0.35"/>
<polygon points="364.18,96.11 365.78,96.11 364.98,97.50" fill="#8c564b" stroke="#6e4338" stroke-width="0.35"/>
<polygon points="361.31,96.35 362.91,96.35 362.11,94.96" fill="#8c564b" stroke="#6e4338" stroke-width="0.35"/>
<polygon points="361.17,96.90 362.77,96.90 361.97,98.29" fill="#8c564b" stroke="#6e4338" stroke-width="0.35"/>
<polygon points="369.61,98.23 371.21,98.23 370.41,96.84" fill="#8c564b" stroke="#6e4338" stroke-width="0.35"/>
<polygon points="361.19,97.22 362.79,97.22 361.99,95.82" fill="#8c564b" stroke="#6e4338" stroke-width="0.35"/>
<polygon points="351.83,97.10 353.43,97.10 352.63,98.50" fill="#8c564b" stroke="#6e4338" stroke-width="0.35"/>
<polygon points="355.92,98.00 357.52,98.00 356.72,96.60" fill="#8c564b" stroke="#6e4338" stroke-width="0.35"/>
<polygon points="369.59,98.47 371.19,98.47 370.39,97.08" fill="#8c564b" stroke="#6e4338" stroke-width="0.35"/>
<polygon points="367.37,97.35 368.97,97.35 368.17,95.96" fill="#8c564b" stroke="#6e4338" stroke-width="0.35"/>
<polygon points="351.55,97.42 353.15,97.42 352.35,96.03" fill="#8c564b" stroke="#6e4338" stroke-width="0.35"/>
<polygon points="363.63,95.72 365.23,95.72 364.43,97.11" fill="#8c564b" stroke="#6e4338" stroke-width="0.35"/>
<polygon points="346.00,98.04 347.60,98.04 346.80,96.65" fill="#8c564b" stroke="#6e4338" stroke-width="0.35"/>
<polygon points="349.39,97.71 350.99,97.71 350.19,96.32" fill="#8c564b" stroke="#6e4338" stroke-width="0.35"/>
<polygon points="350.38,97.97 351.98,97.97 351.18,96.58" fill="#8c564b" stroke="#6e4338" stroke-width="0.35"/>
<polygon points="357.18,96.97 358.78,96.97 357.98,98.37" fill="#8c564b" stroke="#6e4338" stroke-width="0.35"/>
<polygon points="365.58,96.22 367.18,96.22 366.38,97.61" fill="#8c564b" stroke="#6e4338" stroke-width="0.35"/>
<polygon points="346.08,97.57 347.68,97.57 346.88,96.18" fill="#8c564b" stroke="#6e4338" stroke-width="0.35"/>
<polygon points="350.35,98.01 351.95,98.01 351.15,96.61" fill="#8c564b" stroke="#6e4338" stroke-width="0.35"/>
<polygon points="369.52,96.69 371.12,96.69 370.32,98.08" fill="#8c564b" stroke="#6e4338" stroke-width="0.35"/>
<polygon points="360.83,96.99 362.43,96.99 361.63,98.38" fill="#8c564b" stroke="#6e4338" stroke-width="0.35"/>
<polygon points="348.81,96.42 350.41,96.42 349.61,97.81" fill="#8c564b" stroke="#6e4338" stroke-width="0.35"/>
<polygon points="360.09,98.20 361.69,98.20 360.89,96.81" fill="#8c564b" stroke="#6e4338" stroke-width="0.35"/>
<polygon points="347.88,98.47 349.48,98.47 348.68,97.08" fill="#8c564b" stroke="#6e4338" stroke-width="0.35"/>
<polygon points="354.50,98.43 356.10,98.43 355.30,97.04" fill="#8c564b" stroke="#6e4338" stroke-width="0.35"/>
<polygon points="366.65,98.40 368.25,98.40 367.45,97.01" fill="#8c564b" stroke="#6e4338" stroke-width="0.35"/>
<polygon points="353.64,96.69 355.24,96.69 354.44,98.08" fill="#8c564b" stroke="#6e4338" stroke-width="0.35"/>
<polygon points="344.49,95.88 346.09,95.88 345.29,94.49" fill="#8c564b" stroke="#6e4338" stroke-width="0.35"/>
<polygon points="357.80,96.63 359.40,96.63 358.60,98.02" fill="#8c564b" stroke="#6e4338" stroke-width="0.35"/>
<polygon points="366.41,98.18 368.01,98.18 367.21,96.79" fill="#8c564b" stroke="#6e4338" stroke-width="0.35"/>
<polygon points="366.06,97.53 367.66,97.53 366.86,96.14" fill="#8c564b" stroke="#6e4338" stroke-width="0.35"/>
<polygon points="350.97,97.08 352.57,97.08 351.77,98.47" fill="#8c564b" stroke="#6e4338" stroke-width="0.35"/>
<polygon points="348.81,97.05 350.41,97.05 349.61,98.45" fill="#8c564b" stroke="#6e4338" stroke-width="0.35"/>
<polygon points="359.89,95.95 361.49,95.95 360.69,97.34" fill="#8c564b" stroke="#6e4338" stroke-width="0.35"/>
<polygon points="371.35,95.74 372.95,95.74 372.15,97.14" fill="#8c564b" stroke="#6e4338" stroke-width="0.35"/>
<polygon points="361.08,96.82 362.68,96.82 361.88,98.21" fill="#8c564b" stroke="#6e4338" stroke-width="0.35"/>
<polygon points="371.70,98.33 373.30,98.33 372.50,96.94" fill="#8c564b" stroke="#6e4338" stroke-width="0.35"/>
<polygon points="362.33,96.73 363.93,96.73 363.13,95.33" fill="#8c564b" stroke="#6e4338" stroke-width="0.35"/>
<polygon points="355.06,96.77 356.66,96.77 355.86,98.16" fill="#8c564b" stroke="#6e4338" stroke-width="0.35"/>
<polygon points="371.89,94.49 373.49,94.49 372.69,95.88" fill="#8c564b" stroke="#6e4338" stroke-width="0.35"/>
<polygon points="344.64,96.94 346.24,96.94 345.44,98.33" fill="#8c564b" stroke="#6e4338" stroke-width="0.35"/>
<polygon points="370.04,97.17 371.64,97.17 370.84,95.78" fill="#8c564b" stroke="#6e4338" stroke-width="0.35"/>
<polygon points="344.88,97.62 346.48,97.62 345.68,96.23" fill="#8c564b" stroke="#6e4338" stroke-width="0.35"/>
<polygon points="362.51,94.71 364.11,94.71 363.31,96.11" fill="#8c564b" stroke="#6e4338" stroke-width="0.35"/>
<polygon points="347.76,97.70 349.36,97.70 348.56,96.31" fill="#8c564b" stroke="#6e4338" stroke-width="0.35"/>
<polygon points="363.40,98.30 365.00,98.30 364.20,96.90" fill="#8c564b" stroke="#6e4338" stroke-width="0.35"/>
<polygon points="365.78,97.04 367.38,97.04 366.58,98.43" fill="#8c564b" stroke="#6e4338" stroke-width="0.35"/>
<polygon points="351.06,97.03 352.66,97.03 351.86,98.42" fill="#8c564b" stroke="#6e4338" stroke-width="0.35"/>
<polygon points="348.46,96.95 350.06,96.95 349.26,98.34" fill="#8c564b" stroke="#6e4338" stroke-width="0.35"/>
<polygon points="363.42,98.49 365.02,98.49 364.22,97.10" fill="#8c564b" stroke="#6e4338" stroke-width="0.35"/>
<polygon points="349.24,98.48 350.84,98.48 350.04,97.08" fill="#8c564b" stroke="#6e4338" stroke-width="0.35"/>
<polygon points="349.98,96.96 351.58,96.96 350.78,95.57" fill="#8c564b" stroke="#6e4338" stroke-width="0.35"/>
<polygon points="369.63,97.02 371.23,97.02 370.43,98.41" fill="#8c564b" stroke="#6e4338" stroke-width="0.35"/>
<polygon points="346.35,97.00 347.95,97.00 347.15,95.61" fill="#8c564b" stroke="#6e4338" stroke-width="0.35"/>
<line x1="375.0" y1="97.9" x2="404.0" y2="97.9" stroke="#9a8580" stroke-width="1.3"/>
<polygon points="392.35,96.76 393.95,96.76 393.15,98.16" fill="#c49c94" stroke="#9a8580" stroke-width="0.35"/>
<polygon points="397.87,98.13 399.47,98.13 398.67,96.74" fill="#c49c94" stroke="#9a8580" stroke-width="0.35"/>
<polygon points="378.55,96.96 380.15,96.96 379.35,98.35" fill="#c49c94" stroke="#9a8580" stroke-width="0.35"/>
<polygon points="394.77,96.65 396.37,96.65 395.57,98.04" fill="#c49c94" stroke="#9a8580" stroke-width="0.35"/>
<polygon points="399.23,96.93 400.83,96.93 400.03,98.32" fill="#c49c94" stroke="#9a8580" stroke-width="0.35"/>
<polygon points="378.92,98.32 380.52,98.32 379.72,96.93" fill="#c49c94" stroke="#9a8580" stroke-width="0.35"/>
<polygon points="384.00,97.00 385.60,97.00 384.80,98.39" fill="#c49c94" stroke="#9a8580" stroke-width="0.35"/>
<polygon points="383.53,95.78 385.13,95.78 384.33,97.18" fill="#c49c94" stroke="#9a8580" stroke-width="0.35"/>
<polygon points="402.29,98.46 403.89,98.46 403.09,97.07" fill="#c49c94" stroke="#9a8580" stroke-width="0.35"/>
<polygon points="393.48,96.97 395.08,96.97 394.28,98.36" fill="#c49c94" stroke="#9a8580" stroke-width="0.35"/>
<polygon points="382.63,96.94 384.23,96.94 383.43,98.33" fill="#c49c94" stroke="#9a8580" stroke-width="0.35"/>
<polygon points="384.85,95.88 386.45,95.88 385.65,94.49" fill="#c49c94" stroke="#9a8580" stroke-width="0.35"/>
<polygon points="400.77,97.05 402.37,97.05 401.57,98.44" fill="#c49c94" stroke="#9a8580" stroke-width="0.35"/>
<polygon points="399.95,98.46 401.55,98.46 400.75,97.07" fill="#c49c94" stroke="#9a8580" stroke-width="0.35"/>
<polygon points="382.84,94.93 384.44,94.93 383.64,96.32" fill="#c49c94" stroke="#9a8580" stroke-width="0.35"/>
<polygon points="397.42,96.87 399.02,96.87 398.22,98.26" fill="#c49c94" stroke="#9a8580" stroke-width="0.35"/>
<polygon points="374.55,97.49 376.15,97.49 375.35,96.10" fill="#c49c94" stroke="#9a8580" stroke-width="0.35"/>
<polygon points="379.78,98.17 381.38,98.17 380.58,96.78" fill="#c49c94" stroke="#9a8580" stroke-width="0.35"/>
<polygon points="380.70,96.63 382.30,96.63 381.50,98.02" fill="#c49c94" stroke="#9a8580" stroke-width="0.35"/>
<polygon points="379.62,97.66 381.22,97.66 380.42,96.27" fill="#c49c94" stroke="#9a8580" stroke-width="0.35"/>
<polygon points="380.09,97.06 381.69,97.06 380.89,98.45" fill="#c49c94" stroke="#9a8580" stroke-width="0.35"/>
<polygon points="391.78,96.72 393.38,96.72 392.58,98.11" fill="#c49c94" stroke="#9a8580" stroke-width="0.35"/>
<polygon points="380.35,97.96 381.95,97.96 381.15,96.57" fill="#c49c94" stroke="#9a8580" stroke-width="0.35"/>
<polygon points="397.55,96.61 399.15,96.61 398.35,98.00" fill="#c49c94" stroke="#9a8580" stroke-width="0.35"/>
<polygon points="376.37,96.36 377.97,96.36 377.17,97.75" fill="#c49c94" stroke="#9a8580" stroke-width="0.35"/>
<polygon points="395.00,98.46 396.60,98.46 395.80,97.07" fill="#c49c94" stroke="#9a8580" stroke-width="0.35"/>
<polygon points="384.02,97.45 385.62,97.45 384.82,96.06" fill="#c49c94" stroke="#9a8580" stroke-width="0.35"/>
<polygon points="388.50,98.49 390.10,98.49 389.30,97.10" fill="#c49c94" stroke="#9a8580" stroke-width="0.35"/>
<polygon points="388.04,95.94 389.64,95.94 388.84,97.33" fill="#c49c94" stroke="#9a8580" stroke-width="0.35"/>
<polygon points="379.78,96.10 381.38,96.10 380.58,97.49" fill="#c49c94" stroke="#9a8580" stroke-width="0.35"/>
<polygon points="379.14,98.23 380.74,98.23 379.94,96.84" fill="#c49c94" stroke="#9a8580" stroke-width="0.35"/>
<polygon points="374.63,96.69 376.23,96.69 375.43,98.08" fill="#c49c94" stroke="#9a8580" stroke-width="0.35"/>
<polygon points="389.14,98.42 390.74,98.42 389.94,97.03" fill="#c49c94" stroke="#9a8580" stroke-width="0.35"/>
<polygon points="397.69,95.97 399.29,95.97 398.49,97.36" fill="#c49c94" stroke="#9a8580" stroke-width="0.35"/>
<polygon points="394.70,98.22 396.30,98.22 395.50,96.83" fill="#c49c94" stroke="#9a8580" stroke-width="0.35"/>
<polygon points="376.24,97.33 377.84,97.33 377.04,95.94" fill="#c49c94" stroke="#9a8580" stroke-width="0.35"/>
<polygon points="388.55,98.09 390.15,98.09 389.35,96.70" fill="#c49c94" stroke="#9a8580" stroke-width="0.35"/>
<polygon points="389.76,98.48 391.36,98.48 390.56,97.09" fill="#c49c94" stroke="#9a8580" stroke-width="0.35"/>
<polygon points="380.85,96.99 382.45,96.99 381.65,98.38" fill="#c49c94" stroke="#9a8580" stroke-width="0.35"/>
<polygon points="381.61,96.14 383.21,96.14 382.41,97.54" fill="#c49c94" stroke="#9a8580" stroke-width="0.35"/>
<polygon points="377.24,96.43 378.84,96.43 378.04,97.82" fill="#c49c94" stroke="#9a8580" stroke-width="0.35"/>
<polygon points="375.00,97.98 376.60,97.98 375.80,96.59" fill="#c49c94" stroke="#9a8580" stroke-width="0.35"/>
<polygon points="389.35,96.42 390.95,96.42 390.15,97.81" fill="#c49c94" stroke="#9a8580" stroke-width="0.35"/>
<polygon points="399.19,96.39 400.79,96.39 399.99,97.78" fill="#c49c94" stroke="#9a8580" stroke-width="0.35"/>
<polygon points="377.99,98.11 379.59,98.11 378.79,96.72" fill="#c49c94" stroke="#9a8580" stroke-width="0.35"/>
<polygon points="382.44,97.03 384.04,97.03 383.24,98.42" fill="#c49c94" stroke="#9a8580" stroke-width="0.35"/>
<polygon points="378.39,97.99 379.99,97.99 379.19,96.60" fill="#c49c94" stroke="#9a8580" stroke-width="0.35"/>
<polygon points="378.68,98.02 380.28,98.02 379.48,96.62" fill="#c49c94" stroke="#9a8580" stroke-width="0.35"/>
<polygon points="379.17,97.51 380.77,97.51 379.97,96.12" fill="#c49c94" stroke="#9a8580" stroke-width="0.35"/>
<polygon points="385.54,98.19 387.14,98.19 386.34,96.80" fill="#c49c94" stroke="#9a8580" stroke-width="0.35"/>
<polygon points="389.43,98.21 391.03,98.21 390.23,96.82" fill="#c49c94" stroke="#9a8580" stroke-width="0.35"/>
<polygon points="396.56,96.87 398.16,96.87 397.36,98.26" fill="#c49c94" stroke="#9a8580" stroke-width="0.35"/>
<polygon points="384.02,98.17 385.62,98.17 384.82,96.78" fill="#c49c94" stroke="#9a8580" stroke-width="0.35"/>
<polygon points="397.34,97.12 398.94,97.12 398.14,95.73" fill="#c49c94" stroke="#9a8580" stroke-width="0.35"/>
<polygon points="398.57,98.46 400.17,98.46 399.37,97.07" fill="#c49c94" stroke="#9a8580" stroke-width="0.35"/>
<line x1="405.0" y1="97.9" x2="431.5" y2="97.9" stroke="#c46aa8" stroke-width="1.3"/>
<polygon points="429.31,95.57 430.91,95.57 430.11,96.96" fill="#e377c2" stroke="#c46aa8" stroke-width="0.35"/>
<polygon points="415.43,96.54 417.03,96.54 416.23,97.93" fill="#e377c2" stroke="#c46aa8" stroke-width="0.35"/>
<polygon points="418.25,97.06 419.85,97.06 419.05,98.46" fill="#e377c2" stroke="#c46aa8" stroke-width="0.35"/>
<polygon points="417.57,97.09 419.17,97.09 418.37,98.48" fill="#e377c2" stroke="#c46aa8" stroke-width="0.35"/>
<polygon points="429.62,97.65 431.22,97.65 430.42,96.26" fill="#e377c2" stroke="#c46aa8" stroke-width="0.35"/>
<polygon points="420.90,97.56 422.50,97.56 421.70,96.17" fill="#e377c2" stroke="#c46aa8" stroke-width="0.35"/>
<polygon points="427.41,98.48 429.01,98.48 428.21,97.08" fill="#e377c2" stroke="#c46aa8" stroke-width="0.35"/>
<polygon points="411.38,96.46 412.98,96.46 412.18,97.85" fill="#e377c2" stroke="#c46aa8" stroke-width="0.35"/>
<polygon points="418.54,97.04 420.14,97.04 419.34,95.64" fill="#e377c2" stroke="#c46aa8" stroke-width="0.35"/>
<polygon points="410.99,96.69 412.59,96.69 411.79,98.08" fill="#e377c2" stroke="#c46aa8" stroke-width="0.35"/>
<polygon points="429.13,96.91 430.73,96.91 429.93,98.30" fill="#e377c2" stroke="#c46aa8" stroke-width="0.35"/>
<polygon points="421.27,98.42 422.87,98.42 422.07,97.03" fill="#e377c2" stroke="#c46aa8" stroke-width="0.35"/>
<polygon points="429.26,96.70 430.86,96.70 430.06,98.09" fill="#e377c2" stroke="#c46aa8" stroke-width="0.35"/>
<polygon points="416.58,96.67 418.18,96.67 417.38,98.06" fill="#e377c2" stroke="#c46aa8" stroke-width="0.35"/>
<polygon points="407.71,97.02 409.31,97.02 408.51,98.42" fill="#e377c2" stroke="#c46aa8" stroke-width="0.35"/>
<polygon points="415.03,96.91 416.63,96.91 415.83,98.30" fill="#e377c2" stroke="#c46aa8" stroke-width="0.35"/>
<polygon points="406.78,98.05 408.38,98.05 407.58,96.66" fill="#e377c2" stroke="#c46aa8" stroke-width="0.35"/>
<polygon points="420.30,98.02 421.90,98.02 421.10,96.63" fill="#e377c2" stroke="#c46aa8" stroke-width="0.35"/>
<polygon points="409.71,96.40 411.31,96.40 410.51,97.80" fill="#e377c2" stroke="#c46aa8" stroke-width="0.35"/>
<polygon points="418.69,96.57 420.29,96.57 419.49,97.96" fill="#e377c2" stroke="#c46aa8" stroke-width="0.35"/>
<polygon points="412.54,96.95 414.14,96.95 413.34,98.34" fill="#e377c2" stroke="#c46aa8" stroke-width="0.35"/>
<polygon points="417.77,98.22 419.37,98.22 418.57,96.83" fill="#e377c2" stroke="#c46aa8" stroke-width="0.35"/>
<polygon points="404.81,98.25 406.41,98.25 405.61,96.86" fill="#e377c2" stroke="#c46aa8" stroke-width="0.35"/>
<polygon points="410.68,96.64 412.28,96.64 411.48,98.04" fill="#e377c2" stroke="#c46aa8" stroke-width="0.35"/>
<polygon points="411.88,94.63 413.48,94.63 412.68,96.02" fill="#e377c2" stroke="#c46aa8" stroke-width="0.35"/>
<polygon points="424.50,97.01 426.10,97.01 425.30,98.40" fill="#e377c2" stroke="#c46aa8" stroke-width="0.35"/>
<polygon points="427.07,96.78 428.67,96.78 427.87,98.17" fill="#e377c2" stroke="#c46aa8" stroke-width="0.35"/>
<polygon points="414.55,98.17 416.15,98.17 415.35,96.78" fill="#e377c2" stroke="#c46aa8" stroke-width="0.35"/>
<polygon points="407.33,98.35 408.93,98.35 408.13,96.96" fill="#e377c2" stroke="#c46aa8" stroke-width="0.35"/>
<polygon points="423.63,97.01 425.23,97.01 424.43,98.40" fill="#e377c2" stroke="#c46aa8" stroke-width="0.35"/>
<polygon points="413.63,97.86 415.23,97.86 414.43,96.47" fill="#e377c2" stroke="#c46aa8" stroke-width="0.35"/>
<polygon points="426.51,97.52 428.11,97.52 427.31,96.13" fill="#e377c2" stroke="#c46aa8" stroke-width="0.35"/>
<polygon points="423.63,97.73 425.23,97.73 424.43,96.34" fill="#e377c2" stroke="#c46aa8" stroke-width="0.35"/>
<polygon points="416.81,97.63 418.41,97.63 417.61,96.24" fill="#e377c2" stroke="#c46aa8" stroke-width="0.35"/>
<polygon points="428.19,98.42 429.79,98.42 428.99,97.03" fill="#e377c2" stroke="#c46aa8" stroke-width="0.35"/>
<polygon points="404.61,97.68 406.21,97.68 405.41,96.28" fill="#e377c2" stroke="#c46aa8" stroke-width="0.35"/>
<polygon points="417.40,96.64 419.00,96.64 418.20,95.24" fill="#e377c2" stroke="#c46aa8" stroke-width="0.35"/>
<polygon points="415.32,97.63 416.92,97.63 416.12,96.24" fill="#e377c2" stroke="#c46aa8" stroke-width="0.35"/>
<polygon points="420.23,96.83 421.83,96.83 421.03,98.23" fill="#e377c2" stroke="#c46aa8" stroke-width="0.35"/>
<polygon points="416.36,96.38 417.96,96.38 417.16,97.77" fill="#e377c2" stroke="#c46aa8" stroke-width="0.35"/>
<polygon points="414.62,96.65 416.22,96.65 415.42,98.04" fill="#e377c2" stroke="#c46aa8" stroke-width="0.35"/>
<polygon points="412.84,97.62 414.44,97.62 413.64,96.23" fill="#e377c2" stroke="#c46aa8" stroke-width="0.35"/>
<polygon points="417.44,96.77 419.04,96.77 418.24,98.16" fill="#e377c2" stroke="#c46aa8" stroke-width="0.35"/>
<polygon points="412.37,98.41 413.97,98.41 413.17,97.02" fill="#e377c2" stroke="#c46aa8" stroke-width="0.35"/>
<polygon points="419.56,98.44 421.16,98.44 420.36,97.05" fill="#e377c2" stroke="#c46aa8" stroke-width="0.35"/>
<polygon points="412.89,97.45 414.49,97.45 413.69,96.06" fill="#e377c2" stroke="#c46aa8" stroke-width="0.35"/>
<polygon points="429.33,96.97 430.93,96.97 430.13,98.37" fill="#e377c2" stroke="#c46aa8" stroke-width="0.35"/>
<polygon points="428.08,97.10 429.68,97.10 428.88,98.49" fill="#e377c2" stroke="#c46aa8" stroke-width="0.35"/>
<polygon points="419.13,98.11 420.73,98.11 419.93,96.72" fill="#e377c2" stroke="#c46aa8" stroke-width="0.35"/>
<polygon points="424.53,98.06 426.13,98.06 425.33,96.67" fill="#e377c2" stroke="#c46aa8" stroke-width="0.35"/>
<polygon points="417.90,98.08 419.50,98.08 418.70,96.69" fill="#e377c2" stroke="#c46aa8" stroke-width="0.35"/>
<polygon points="414.59,98.25 416.19,98.25 415.39,96.85" fill="#e377c2" stroke="#c46aa8" stroke-width="0.35"/>
<polygon points="413.59,96.83 415.19,96.83 414.39,95.43" fill="#e377c2" stroke="#c46aa8" stroke-width="0.35"/>
<polygon points="418.10,97.05 419.70,97.05 418.90,98.44" fill="#e377c2" stroke="#c46aa8" stroke-width="0.35"/>
<polygon points="414.88,98.03 416.48,98.03 415.68,96.64" fill="#e377c2" stroke="#c46aa8" stroke-width="0.35"/>
<line x1="432.5" y1="97.9" x2="462.5" y2="97.9" stroke="#c0a0ae" stroke-width="1.3"/>
<polygon points="457.87,95.22 459.47,95.22 458.67,96.61" fill="#f7b6d2" stroke="#c0a0ae" stroke-width="0.35"/>
<polygon points="444.94,97.94 446.54,97.94 445.74,96.55" fill="#f7b6d2" stroke="#c0a0ae" stroke-width="0.35"/>
<polygon points="442.09,98.07 443.69,98.07 442.89,96.68" fill="#f7b6d2" stroke="#c0a0ae" stroke-width="0.35"/>
<polygon points="437.02,98.28 438.62,98.28 437.82,96.89" fill="#f7b6d2" stroke="#c0a0ae" stroke-width="0.35"/>
<polygon points="456.29,96.70 457.89,96.70 457.09,98.09" fill="#f7b6d2" stroke="#c0a0ae" stroke-width="0.35"/>
<polygon points="458.30,97.83 459.90,97.83 459.10,96.44" fill="#f7b6d2" stroke="#c0a0ae" stroke-width="0.35"/>
<polygon points="461.11,95.87 462.71,95.87 461.91,97.26" fill="#f7b6d2" stroke="#c0a0ae" stroke-width="0.35"/>
<polygon points="436.60,98.30 438.20,98.30 437.40,96.91" fill="#f7b6d2" stroke="#c0a0ae" stroke-width="0.35"/>
<polygon points="446.84,96.99 448.44,96.99 447.64,98.38" fill="#f7b6d2" stroke="#c0a0ae" stroke-width="0.35"/>
<polygon points="450.52,96.58 452.12,96.58 451.32,97.97" fill="#f7b6d2" stroke="#c0a0ae" stroke-width="0.35"/>
<polygon points="461.22,96.53 462.82,96.53 462.02,97.92" fill="#f7b6d2" stroke="#c0a0ae" stroke-width="0.35"/>
<polygon points="444.10,96.23 445.70,96.23 444.90,97.62" fill="#f7b6d2" stroke="#c0a0ae" stroke-width="0.35"/>
<polygon points="452.31,97.10 453.91,97.10 453.11,98.49" fill="#f7b6d2" stroke="#c0a0ae" stroke-width="0.35"/>
<polygon points="456.76,98.00 458.36,98.00 457.56,96.61" fill="#f7b6d2" stroke="#c0a0ae" stroke-width="0.35"/>
<polygon points="437.78,98.11 439.38,98.11 438.58,96.71" fill="#f7b6d2" stroke="#c0a0ae" stroke-width="0.35"/>
<polygon points="439.82,97.91 441.42,97.91 440.62,96.52" fill="#f7b6d2" stroke="#c0a0ae" stroke-width="0.35"/>
<polygon points="461.32,96.62 462.92,96.62 462.12,98.01" fill="#f7b6d2" stroke="#c0a0ae" stroke-width="0.35"/>
<polygon points="435.57,98.40 437.17,98.40 436.37,97.01" fill="#f7b6d2" stroke="#c0a0ae" stroke-width="0.35"/>
<polygon points="435.14,97.04 436.74,97.04 435.94,98.44" fill="#f7b6d2" stroke="#c0a0ae" stroke-width="0.35"/>
<polygon points="447.36,97.52 448.96,97.52 448.16,96.12" fill="#f7b6d2" stroke="#c0a0ae" stroke-width="0.35"/>
<polygon points="455.71,97.07 457.31,97.07 456.51,98.46" fill="#f7b6d2" stroke="#c0a0ae" stroke-width="0.35"/>
<polygon points="454.66,98.28 456.26,98.28 455.46,96.88" fill="#f7b6d2" stroke="#c0a0ae" stroke-width="0.35"/>
<polygon points="442.40,97.00 444.00,97.00 443.20,98.39" fill="#f7b6d2" stroke="#c0a0ae" stroke-width="0.35"/>
<polygon points="434.92,97.17 436.52,97.17 435.72,95.78" fill="#f7b6d2" stroke="#c0a0ae" stroke-width="0.35"/>
<polygon points="442.26,96.77 443.86,96.77 443.06,98.16" fill="#f7b6d2" stroke="#c0a0ae" stroke-width="0.35"/>
<polygon points="433.61,97.25 435.21,97.25 434.41,95.85" fill="#f7b6d2" stroke="#c0a0ae" stroke-width="0.35"/>
<polygon points="460.21,98.17 461.81,98.17 461.01,96.78" fill="#f7b6d2" stroke="#c0a0ae" stroke-width="0.35"/>
<polygon points="439.33,98.47 440.93,98.47 440.13,97.08" fill="#f7b6d2" stroke="#c0a0ae" stroke-width="0.35"/>
<polygon points="457.13,98.28 458.73,98.28 457.93,96.89" fill="#f7b6d2" stroke="#c0a0ae" stroke-width="0.35"/>
<polygon points="455.99,98.29 457.59,98.29 456.79,96.90" fill="#f7b6d2" stroke="#c0a0ae" stroke-width="0.35"/>
<polygon points="460.22,98.11 461.82,98.11 461.02,96.72" fill="#f7b6d2" stroke="#c0a0ae" stroke-width="0.35"/>
<polygon points="439.14,98.22 440.74,98.22 439.94,96.82" fill="#f7b6d2" stroke="#c0a0ae" stroke-width="0.35"/>
<polygon points="438.51,98.29 440.11,98.29 439.31,96.89" fill="#f7b6d2" stroke="#c0a0ae" stroke-width="0.35"/>
<polygon points="446.24,96.21 447.84,96.21 447.04,97.61" fill="#f7b6d2" stroke="#c0a0ae" stroke-width="0.35"/>
<polygon points="437.10,96.85 438.70,96.85 437.90,98.25" fill="#f7b6d2" stroke="#c0a0ae" stroke-width="0.35"/>
<polygon points="460.56,98.30 462.16,98.30 461.36,96.91" fill="#f7b6d2" stroke="#c0a0ae" stroke-width="0.35"/>
<polygon points="435.38,96.67 436.98,96.67 436.18,98.06" fill="#f7b6d2" stroke="#c0a0ae" stroke-width="0.35"/>
<polygon points="443.85,97.07 445.45,97.07 444.65,98.46" fill="#f7b6d2" stroke="#c0a0ae" stroke-width="0.35"/>
<polygon points="456.28,96.86 457.88,96.86 457.08,98.25" fill="#f7b6d2" stroke="#c0a0ae" stroke-width="0.35"/>
<polygon points="437.62,96.92 439.22,96.92 438.42,98.31" fill="#f7b6d2" stroke="#c0a0ae" stroke-width="0.35"/>
<polygon points="433.03,96.49 434.63,96.49 433.83,97.88" fill="#f7b6d2" stroke="#c0a0ae" stroke-width="0.35"/>
<polygon points="436.58,96.41 438.18,96.41 437.38,97.80" fill="#f7b6d2" stroke="#c0a0ae" stroke-width="0.35"/>
<polygon points="439.93,96.09 441.53,96.09 440.73,97.48" fill="#f7b6d2" stroke="#c0a0ae" stroke-width="0.35"/>
<polygon points="445.03,97.47 446.63,97.47 445.83,96.08" fill="#f7b6d2" stroke="#c0a0ae" stroke-width="0.35"/>
<polygon points="436.68,98.25 438.28,98.25 437.48,96.86" fill="#f7b6d2" stroke="#c0a0ae" stroke-width="0.35"/>
<polygon points="443.08,95.31 444.68,95.31 443.88,96.70" fill="#f7b6d2" stroke="#c0a0ae" stroke-width="0.35"/>
<polygon points="459.96,96.71 461.56,96.71 460.76,98.10" fill="#f7b6d2" stroke="#c0a0ae" stroke-width="0.35"/>
<polygon points="445.31,98.42 446.91,98.42 446.11,97.02" fill="#f7b6d2" stroke="#c0a0ae" stroke-width="0.35"/>
<polygon points="439.67,97.20 441.27,97.20 440.47,95.80" fill="#f7b6d2" stroke="#c0a0ae" stroke-width="0.35"/>
<polygon points="442.82,98.34 444.42,98.34 443.62,96.94" fill="#f7b6d2" stroke="#c0a0ae" stroke-width="0.35"/>
<polygon points="438.25,95.94 439.85,95.94 439.05,97.33" fill="#f7b6d2" stroke="#c0a0ae" stroke-width="0.35"/>
<polygon points="447.08,96.66 448.68,96.66 447.88,98.05" fill="#f7b6d2" stroke="#c0a0ae" stroke-width="0.35"/>
<polygon points="454.69,98.22 456.29,98.22 455.49,96.83" fill="#f7b6d2" stroke="#c0a0ae" stroke-width="0.35"/>
<polygon points="448.69,96.89 450.29,96.89 449.49,98.29" fill="#f7b6d2" stroke="#c0a0ae" stroke-width="0.35"/>
<polygon points="434.53,98.39 436.13,98.39 435.33,96.99" fill="#f7b6d2" stroke="#c0a0ae" stroke-width="0.35"/>
<line x1="463.5" y1="97.9" x2="492.5" y2="97.9" stroke="#5e5e5e" stroke-width="1.3"/>
<polygon points="472.12,96.49 473.72,96.49 472.92,97.88" fill="#7f7f7f" stroke="#5e5e5e" stroke-width="0.35"/>
<polygon points="478.96,98.24 480.56,98.24 479.76,96.85" fill="#7f7f7f" stroke="#5e5e5e" stroke-width="0.35"/>
<polygon points="471.43,97.07 473.03,97.07 472.23,98.46" fill="#7f7f7f" stroke="#5e5e5e" stroke-width="0.35"/>
<polygon points="469.43,98.42 471.03,98.42 470.23,97.03" fill="#7f7f7f" stroke="#5e5e5e" stroke-width="0.35"/>
<polygon points="471.02,98.20 472.62,98.20 471.82,96.81" fill="#7f7f7f" stroke="#5e5e5e" stroke-width="0.35"/>
<polygon points="485.01,97.28 486.61,97.28 485.81,95.89" fill="#7f7f7f" stroke="#5e5e5e" stroke-width="0.35"/>
<polygon points="466.75,96.92 468.35,96.92 467.55,98.31" fill="#7f7f7f" stroke="#5e5e5e" stroke-width="0.35"/>
<polygon points="482.30,96.49 483.90,96.49 483.10,97.88" fill="#7f7f7f" stroke="#5e5e5e" stroke-width="0.35"/>
<polygon points="474.72,97.89 476.32,97.89 475.52,96.50" fill="#7f7f7f" stroke="#5e5e5e" stroke-width="0.35"/>
<polygon points="470.06,96.04 471.66,96.04 470.86,97.44" fill="#7f7f7f" stroke="#5e5e5e" stroke-width="0.35"/>
<polygon points="480.86,96.99 482.46,96.99 481.66,98.38" fill="#7f7f7f" stroke="#5e5e5e" stroke-width="0.35"/>
<polygon points="488.92,97.75 490.52,97.75 489.72,96.36" fill="#7f7f7f" stroke="#5e5e5e" stroke-width="0.35"/>
<polygon points="464.15,97.08 465.75,97.08 464.95,98.47" fill="#7f7f7f" stroke="#5e5e5e" stroke-width="0.35"/>
<polygon points="468.63,96.90 470.23,96.90 469.43,98.29" fill="#7f7f7f" stroke="#5e5e5e" stroke-width="0.35"/>
<polygon points="464.11,98.29 465.71,98.29 464.91,96.89" fill="#7f7f7f" stroke="#5e5e5e" stroke-width="0.35"/>
<polygon points="468.10,97.46 469.70,97.46 468.90,96.07" fill="#7f7f7f" stroke="#5e5e5e" stroke-width="0.35"/>
<polygon points="483.35,96.94 484.95,96.94 484.15,98.33" fill="#7f7f7f" stroke="#5e5e5e" stroke-width="0.35"/>
<polygon points="482.43,96.86 484.03,96.86 483.23,98.25" fill="#7f7f7f" stroke="#5e5e5e" stroke-width="0.35"/>
<polygon points="486.69,96.26 488.29,96.26 487.49,97.65" fill="#7f7f7f" stroke="#5e5e5e" stroke-width="0.35"/>
<polygon points="464.22,97.41 465.82,97.41 465.02,96.02" fill="#7f7f7f" stroke="#5e5e5e" stroke-width="0.35"/>
<polygon points="464.34,96.95 465.94,96.95 465.14,98.34" fill="#7f7f7f" stroke="#5e5e5e" stroke-width="0.35"/>
<polygon points="485.48,98.36 487.08,98.36 486.28,96.97" fill="#7f7f7f" stroke="#5e5e5e" stroke-width="0.35"/>
<polygon points="484.29,98.45 485.89,98.45 485.09,97.05" fill="#7f7f7f" stroke="#5e5e5e" stroke-width="0.35"/>
<polygon points="474.18,97.72 475.78,97.72 474.98,96.33" fill="#7f7f7f" stroke="#5e5e5e" stroke-width="0.35"/>
<polygon points="470.99,98.44 472.59,98.44 471.79,97.05" fill="#7f7f7f" stroke="#5e5e5e" stroke-width="0.35"/>
<polygon points="475.04,96.99 476.64,96.99 475.84,95.60" fill="#7f7f7f" stroke="#5e5e5e" stroke-width="0.35"/>
<polygon points="483.98,97.49 485.58,97.49 484.78,96.10" fill="#7f7f7f" stroke="#5e5e5e" stroke-width="0.35"/>
<polygon points="475.86,98.46 477.46,98.46 476.66,97.07" fill="#7f7f7f" stroke="#5e5e5e" stroke-width="0.35"/>
<polygon points="475.17,98.09 476.77,98.09 475.97,96.70" fill="#7f7f7f" stroke="#5e5e5e" stroke-width="0.35"/>
<polygon points="466.63,96.29 468.23,96.29 467.43,97.68" fill="#7f7f7f" stroke="#5e5e5e" stroke-width="0.35"/>
<polygon points="482.96,96.18 484.56,96.18 483.76,97.57" fill="#7f7f7f" stroke="#5e5e5e" stroke-width="0.35"/>
<polygon points="478.52,96.53 480.12,96.53 479.32,95.13" fill="#7f7f7f" stroke="#5e5e5e" stroke-width="0.35"/>
<polygon points="478.45,96.94 480.05,96.94 479.25,98.33" fill="#7f7f7f" stroke="#5e5e5e" stroke-width="0.35"/>
<polygon points="473.16,96.80 474.76,96.80 473.96,98.20" fill="#7f7f7f" stroke="#5e5e5e" stroke-width="0.35"/>
<polygon points="471.82,98.41 473.42,98.41 472.62,97.02" fill="#7f7f7f" stroke="#5e5e5e" stroke-width="0.35"/>
<polygon points="482.04,96.95 483.64,96.95 482.84,98.34" fill="#7f7f7f" stroke="#5e5e5e" stroke-width="0.35"/>
<polygon points="477.64,98.16 479.24,98.16 478.44,96.77" fill="#7f7f7f" stroke="#5e5e5e" stroke-width="0.35"/>
<polygon points="472.98,98.29 474.58,98.29 473.78,96.90" fill="#7f7f7f" stroke="#5e5e5e" stroke-width="0.35"/>
<polygon points="467.03,96.64 468.63,96.64 467.83,98.03" fill="#7f7f7f" stroke="#5e5e5e" stroke-width="0.35"/>
<polygon points="486.16,98.05 487.76,98.05 486.96,96.65" fill="#7f7f7f" stroke="#5e5e5e" stroke-width="0.35"/>
<polygon points="467.81,97.88 469.41,97.88 468.61,96.48" fill="#7f7f7f" stroke="#5e5e5e" stroke-width="0.35"/>
<polygon points="476.10,97.67 477.70,97.67 476.90,96.28" fill="#7f7f7f" stroke="#5e5e5e" stroke-width="0.35"/>
<polygon points="466.25,96.91 467.85,96.91 467.05,98.30" fill="#7f7f7f" stroke="#5e5e5e" stroke-width="0.35"/>
<polygon points="468.86,97.07 470.46,97.07 469.66,98.46" fill="#7f7f7f" stroke="#5e5e5e" stroke-width="0.35"/>
<polygon points="468.60,96.42 470.20,96.42 469.40,97.81" fill="#7f7f7f" stroke="#5e5e5e" stroke-width="0.35"/>
<polygon points="466.21,96.88 467.81,96.88 467.01,98.27" fill="#7f7f7f" stroke="#5e5e5e" stroke-width="0.35"/>
<polygon points="473.31,97.00 474.91,97.00 474.11,98.39" fill="#7f7f7f" stroke="#5e5e5e" stroke-width="0.35"/>
<polygon points="463.31,95.88 464.91,95.88 464.11,94.49" fill="#7f7f7f" stroke="#5e5e5e" stroke-width="0.35"/>
<polygon points="465.38,97.78 466.98,97.78 466.18,96.39" fill="#7f7f7f" stroke="#5e5e5e" stroke-width="0.35"/>
<polygon points="479.01,97.04 480.61,97.04 479.81,98.43" fill="#7f7f7f" stroke="#5e5e5e" stroke-width="0.35"/>
<polygon points="475.33,98.38 476.93,98.38 476.13,96.99" fill="#7f7f7f" stroke="#5e5e5e" stroke-width="0.35"/>
<polygon points="463.24,97.07 464.84,97.07 464.04,95.68" fill="#7f7f7f" stroke="#5e5e5e" stroke-width="0.35"/>
<polygon points="480.83,96.95 482.43,96.95 481.63,95.56" fill="#7f7f7f" stroke="#5e5e5e" stroke-width="0.35"/>
<polygon points="470.14,96.94 471.74,96.94 470.94,98.34" fill="#7f7f7f" stroke="#5e5e5e" stroke-width="0.35"/>
<polygon points="463.79,97.65 465.39,97.65 464.59,96.26" fill="#7f7f7f" stroke="#5e5e5e" stroke-width="0.35"/>
<polygon points="90.70,89.57 93.30,89.57 92.00,91.83" fill="#aec7e8" stroke="#555" stroke-width="0.35"/>
<polygon points="87.90,94.73 90.50,94.73 89.20,92.47" fill="#aec7e8" stroke="#555" stroke-width="0.35"/>
<polygon points="101.70,91.87 104.30,91.87 103.00,94.13" fill="#aec7e8" stroke="#555" stroke-width="0.35"/>
<polygon points="131.70,88.07 134.30,88.07 133.00,90.33" fill="#ff7f0e" stroke="#555" stroke-width="0.35"/>
<polygon points="128.80,94.73 131.40,94.73 130.10,92.47" fill="#ff7f0e" stroke="#555" stroke-width="0.35"/>
<polygon points="120.20,96.13 122.80,96.13 121.50,93.87" fill="#ff7f0e" stroke="#555" stroke-width="0.35"/>
<polygon points="180.80,90.77 183.40,90.77 182.10,93.03" fill="#2ca02c" stroke="#555" stroke-width="0.35"/>
<polygon points="205.10,92.97 207.70,92.97 206.40,95.23" fill="#98df8a" stroke="#555" stroke-width="0.35"/>
<polygon points="209.10,92.87 211.70,92.87 210.40,95.13" fill="#98df8a" stroke="#555" stroke-width="0.35"/>
<polygon points="264.80,91.87 267.40,91.87 266.10,94.13" fill="#ff9896" stroke="#555" stroke-width="0.35"/>
<polygon points="292.00,87.47 294.60,87.47 293.30,89.73" fill="#9467bd" stroke="#555" stroke-width="0.35"/>
<polygon points="301.70,93.57 304.30,93.57 303.00,95.83" fill="#9467bd" stroke="#555" stroke-width="0.35"/>
<polygon points="319.30,91.87 321.90,91.87 320.60,94.13" fill="#c5b0d5" stroke="#555" stroke-width="0.35"/>
<polygon points="331.40,92.37 334.00,92.37 332.70,94.63" fill="#c5b0d5" stroke="#555" stroke-width="0.35"/>
<polygon points="348.70,89.57 351.30,89.57 350.00,91.83" fill="#8c564b" stroke="#555" stroke-width="0.35"/>
<polygon points="360.70,92.37 363.30,92.37 362.00,94.63" fill="#8c564b" stroke="#555" stroke-width="0.35"/>
<polygon points="379.50,90.17 382.10,90.17 380.80,92.43" fill="#c49c94" stroke="#555" stroke-width="0.35"/>
<polygon points="392.10,89.57 394.70,89.57 393.40,91.83" fill="#c49c94" stroke="#555" stroke-width="0.35"/>
<polygon points="409.40,92.37 412.00,92.37 410.70,94.63" fill="#e377c2" stroke="#555" stroke-width="0.35"/>
<polygon points="437.30,90.67 439.90,90.67 438.60,92.93" fill="#f7b6d2" stroke="#555" stroke-width="0.35"/>
<polygon points="468.30,90.67 470.90,90.67 469.60,92.93" fill="#7f7f7f" stroke="#555" stroke-width="0.35"/>
<polygon points="478.20,90.17 480.80,90.17 479.50,92.43" fill="#7f7f7f" stroke="#555" stroke-width="0.35"/>
<polygon points="189.40,65.77 192.00,65.77 190.70,68.03" fill="#2ca02c" stroke="#555" stroke-width="0.35"/>
<line x1="175.4" y1="60.6" x2="178.8" y2="60.6" stroke="#111" stroke-width="0.8"/>
<polygon points="175.50,62.01 178.70,62.01 177.10,64.79" fill="#111" stroke="#111" stroke-width="0.3"/>
<line x1="177.1" y1="60.6" x2="177.1" y2="62" stroke="#111" stroke-width="0.8"/>
<text transform="translate(52.1,100.3) rotate(50)" font-size="3.5" font-weight="bold" fill="#1f77b4" font-family="Liberation Sans, sans-serif" textLength="14.4" lengthAdjust="spacingAndGlyphs">CD4 naive</text>
<text transform="translate(83.9,100.1) rotate(50)" font-size="3.5" font-weight="bold" fill="#aec7e8" font-family="Liberation Sans, sans-serif" textLength="15.8" lengthAdjust="spacingAndGlyphs">CD4 stim</text>
<text transform="translate(114.2,100.8) rotate(50)" font-size="3.5" font-weight="bold" fill="#ff7f0e" font-family="Liberation Sans, sans-serif" textLength="12.4" lengthAdjust="spacingAndGlyphs">CD8 naive</text>
<text transform="translate(142.5,100.8) rotate(50)" font-size="3.5" font-weight="bold" fill="#ffbb78" font-family="Liberation Sans, sans-serif" textLength="25.3" lengthAdjust="spacingAndGlyphs">Classical Monocytes</text>
<text transform="translate(174.4,100.8) rotate(50)" font-size="3.5" font-weight="bold" fill="#2ca02c" font-family="Liberation Sans, sans-serif" textLength="16.9" lengthAdjust="spacingAndGlyphs">Naive B cell</text>
<text transform="translate(202.8,100.8) rotate(50)" font-size="3.5" font-weight="bold" fill="#98df8a" font-family="Liberation Sans, sans-serif" textLength="14.9" lengthAdjust="spacingAndGlyphs">Naive CD8</text>
<text transform="translate(231.8,100.8) rotate(50)" font-size="3.5" font-weight="bold" fill="#d62728" font-family="Liberation Sans, sans-serif" textLength="3.6" lengthAdjust="spacingAndGlyphs">NK</text>
<text transform="translate(258.1,100.3) rotate(50)" font-size="3.5" font-weight="bold" fill="#ff9896" font-family="Liberation Sans, sans-serif" textLength="34.2" lengthAdjust="spacingAndGlyphs">Non-classical Monocytes</text>
<text transform="translate(286.5,100.8) rotate(50)" font-size="3.5" font-weight="bold" fill="#9467bd" font-family="Liberation Sans, sans-serif" textLength="4.5" lengthAdjust="spacingAndGlyphs">TFH</text>
<text transform="translate(313.5,100.8) rotate(50)" font-size="3.5" font-weight="bold" fill="#c5b0d5" font-family="Liberation Sans, sans-serif" textLength="4.0" lengthAdjust="spacingAndGlyphs">TH1</text>
<text transform="translate(343.3,100.8) rotate(50)" font-size="3.5" font-weight="bold" fill="#8c564b" font-family="Liberation Sans, sans-serif" textLength="6.1" lengthAdjust="spacingAndGlyphs">TH17</text>
<text transform="translate(373.3,100.8) rotate(50)" font-size="3.5" font-weight="bold" fill="#c49c94" font-family="Liberation Sans, sans-serif" textLength="6.1" lengthAdjust="spacingAndGlyphs">TH2</text>
<text transform="translate(404.4,100.8) rotate(50)" font-size="3.5" font-weight="bold" fill="#e377c2" font-family="Liberation Sans, sans-serif" textLength="12.4" lengthAdjust="spacingAndGlyphs">TH1/17</text>
<text transform="translate(431.3,100.8) rotate(50)" font-size="3.5" font-weight="bold" fill="#f7b6d2" font-family="Liberation Sans, sans-serif" textLength="16.6" lengthAdjust="spacingAndGlyphs">Treg memory</text>
<text transform="translate(462.3,100.4) rotate(50)" font-size="3.5" font-weight="bold" fill="#7f7f7f" font-family="Liberation Sans, sans-serif" textLength="18.1" lengthAdjust="spacingAndGlyphs">Treg naive</text>
<line x1="164.3" y1="144.0" x2="186.4" y2="144.0" stroke="#9898cc" stroke-width="1.3"/>
<rect x="164.3" y="142.6" width="11.6" height="2.9" fill="#232383"/>
<rect x="183.30" y="142.70" width="0.6" height="2.6" fill="#2e2e8a"/>
<rect x="185.90" y="142.70" width="0.6" height="2.6" fill="#2e2e8a"/>
<line x1="168.20" y1="140.10" x2="171.20" y2="140.10" stroke="#444" stroke-width="0.45"/>
<path d="M169.30 139.30 L168.20 140.10 L169.30 140.90" fill="none" stroke="#444" stroke-width="0.45"/>
<text x="172.10" y="141.4" font-size="3.9" font-style="italic" fill="#333" font-family="Liberation Sans, sans-serif">LLPH</text>
<line x1="194.1" y1="143.5" x2="246.3" y2="143.5" stroke="#9898cc" stroke-width="1.3"/>
<rect x="194.1" y="142.3" width="3.6" height="2.7" fill="#232383"/>
<rect x="209.10" y="142.30" width="0.6" height="2.6" fill="#2e2e8a"/>
<rect x="212.00" y="142.30" width="0.6" height="2.6" fill="#2e2e8a"/>
<rect x="245.90" y="142.30" width="0.6" height="2.6" fill="#2e2e8a"/>
<rect x="217.6" y="142.6" width="3.2" height="2.0" fill="#2e2e8a"/>
<line x1="210.60" y1="140.00" x2="213.60" y2="140.00" stroke="#444" stroke-width="0.45"/>
<path d="M211.70 139.20 L210.60 140.00 L211.70 140.80" fill="none" stroke="#444" stroke-width="0.45"/>
<text x="214.50" y="141.3" font-size="3.9" font-style="italic" fill="#333" font-family="Liberation Sans, sans-serif">TMBIM4</text>
<line x1="175.4" y1="154.5" x2="246.3" y2="154.5" stroke="#9898cc" stroke-width="1.3"/>
<rect x="175.20" y="153.20" width="0.6" height="2.6" fill="#2e2e8a"/>
<rect x="183.30" y="153.20" width="0.6" height="2.6" fill="#2e2e8a"/>
<rect x="197.20" y="153.20" width="0.6" height="2.6" fill="#2e2e8a"/>
<rect x="209.10" y="153.20" width="0.6" height="2.6" fill="#2e2e8a"/>
<rect x="212.00" y="153.20" width="0.6" height="2.6" fill="#2e2e8a"/>
<rect x="245.90" y="153.20" width="0.6" height="2.6" fill="#2e2e8a"/>
<rect x="217.6" y="153.5" width="3.2" height="2.0" fill="#2e2e8a"/>
<line x1="197.90" y1="150.70" x2="200.90" y2="150.70" stroke="#444" stroke-width="0.45"/>
<path d="M199.00 149.90 L197.90 150.70 L199.00 151.50" fill="none" stroke="#444" stroke-width="0.45"/>
<text x="201.80" y="152.0" font-size="3.9" font-style="italic" fill="#333" font-family="Liberation Sans, sans-serif">AC078927.1</text>
<line x1="275.6" y1="143.5" x2="376" y2="143.5" stroke="#9898cc" stroke-width="1.3"/>
<rect x="275.50" y="142.30" width="0.6" height="2.6" fill="#2e2e8a"/>
<circle cx="288.6" cy="143.6" r="1.5" fill="#1c1c6e"/>
<text x="318.00" y="141.6" font-size="3.9" font-style="italic" fill="#333" font-family="Liberation Sans, sans-serif">IRAK3</text>
<line x1="330.17" y1="140.30" x2="333.17" y2="140.30" stroke="#444" stroke-width="0.45"/>
<path d="M332.07 139.50 L333.17 140.30 L332.07 141.10" fill="none" stroke="#444" stroke-width="0.45"/>
<line x1="448.3" y1="143.5" x2="502.6" y2="143.5" stroke="#9898cc" stroke-width="1.3"/>
<rect x="448.15" y="142.50" width="0.9" height="2.2" fill="#2e2e8a"/>
<rect x="451.55" y="142.50" width="0.9" height="2.2" fill="#2e2e8a"/>
<rect x="465.55" y="142.50" width="0.9" height="2.2" fill="#2e2e8a"/>
<rect x="467.75" y="142.50" width="0.9" height="2.2" fill="#2e2e8a"/>
<rect x="472.55" y="142.50" width="0.9" height="2.2" fill="#2e2e8a"/>
<rect x="477.55" y="142.50" width="0.9" height="2.2" fill="#2e2e8a"/>
<rect x="481.05" y="142.50" width="0.9" height="2.2" fill="#2e2e8a"/>
<rect x="483.55" y="142.50" width="0.9" height="2.2" fill="#2e2e8a"/>
<rect x="492.55" y="142.50" width="0.9" height="2.2" fill="#2e2e8a"/>
<rect x="459.7" y="142.1" width="1.8" height="3.0" fill="#1c1c6e"/>
<text x="469.00" y="141.0" font-size="3.9" font-style="italic" fill="#333" font-family="Liberation Sans, sans-serif">HELB</text>
<line x1="480.09" y1="139.70" x2="483.09" y2="139.70" stroke="#444" stroke-width="0.45"/>
<path d="M481.99 138.90 L483.09 139.70 L481.99 140.50" fill="none" stroke="#444" stroke-width="0.45"/>
<line x1="273.8" y1="137.3" x2="273.8" y2="202.3" stroke="#e8353a" stroke-width="0.9" stroke-dasharray="1.0,1.0"/>
<line x1="44.5" y1="202.5" x2="503.3" y2="202.5" stroke="#888" stroke-width="0.6"/>
<line x1="44.5" y1="202.5" x2="44.5" y2="204" stroke="#888" stroke-width="0.6"/>
<line x1="503.3" y1="202.5" x2="503.3" y2="204" stroke="#888" stroke-width="0.6"/>
<line x1="72.5" y1="202.5" x2="72.5" y2="203.8" stroke="#888" stroke-width="0.5"/>
<text x="72.5" y="207.4" font-size="4.0" text-anchor="middle" fill="#222" stroke="#222" stroke-width="0.1" font-family="Liberation Sans, sans-serif">66.45</text>
<line x1="149.0" y1="202.5" x2="149.0" y2="203.8" stroke="#888" stroke-width="0.5"/>
<text x="149.0" y="207.4" font-size="4.0" text-anchor="middle" fill="#222" stroke="#222" stroke-width="0.1" font-family="Liberation Sans, sans-serif">66.50</text>
<line x1="225.5" y1="202.5" x2="225.5" y2="203.8" stroke="#888" stroke-width="0.5"/>
<text x="225.5" y="207.4" font-size="4.0" text-anchor="middle" fill="#222" stroke="#222" stroke-width="0.1" font-family="Liberation Sans, sans-serif">66.55</text>
<line x1="302.0" y1="202.5" x2="302.0" y2="203.8" stroke="#888" stroke-width="0.5"/>
<text x="302.0" y="207.4" font-size="4.0" text-anchor="middle" fill="#222" stroke="#222" stroke-width="0.1" font-family="Liberation Sans, sans-serif">66.60</text>
<line x1="378.5" y1="202.5" x2="378.5" y2="203.8" stroke="#888" stroke-width="0.5"/>
<text x="378.5" y="207.4" font-size="4.0" text-anchor="middle" fill="#222" stroke="#222" stroke-width="0.1" font-family="Liberation Sans, sans-serif">66.65</text>
<line x1="455.0" y1="202.5" x2="455.0" y2="203.8" stroke="#888" stroke-width="0.5"/>
<text x="455.0" y="207.4" font-size="4.0" text-anchor="middle" fill="#222" stroke="#222" stroke-width="0.1" font-family="Liberation Sans, sans-serif">66.70</text>
<text x="273.2" y="213.2" font-size="5.6" font-weight="bold" text-anchor="middle" fill="#222" font-family="Liberation Sans, sans-serif" textLength="50.1" lengthAdjust="spacingAndGlyphs">Chromosome 12 (Mb)</text>
</svg>
<div class="tt"><div>Variant: <b>12:66581616_G/A</b></div><div>Study: <b>DICE_2022</b></div><div>Cell: <b>Naive B cell</b></div><div>Gene: <b>IRAK3</b></div><div>GeneID: <b>ENSG00000090376</b></div><div>Pvalue: <b>8.59 × 10^-20</b></div><div>Beta: <b>-1.14</b></div><div>SE: <b></b></div><div>MAF: <b></b></div><div><a>Go to eQTL gene region plot</a></div><div style="position:absolute;right:0.9px;top:0.8px;width:4.6px;height:5.4px;border:0.4px solid #d4d4d4;background:#fbfbfb"><svg width="4" height="4" style="position:absolute;left:0;top:0"><path d="M1.3 1.4 L2.5 2.6 M2.5 1.4 L1.3 2.6" stroke="#999" stroke-width="0.35"/></svg></div></div>
<div class="a" style="left:469.4px;top:133.1px;width:10.6px;height:4.1px;background:#e3e8f3;border:0.3px solid #c4c8d6;border-radius:0.5px;font-size:3px;line-height:3.5px;text-align:center;color:#333">Filter</div>
<div class="a" style="left:480.4px;top:133.1px;width:2.2px;height:4.1px;background:#e3e8f3;border:0.3px solid #c4c8d6"></div>
<div class="a" style="left:484.2px;top:133.1px;width:12.1px;height:4.1px;background:#f3f3f3;border:0.3px solid #c8c8c8;border-radius:0.5px;font-size:3px;line-height:3.5px;text-align:center;color:#333">Resize</div>
<div class="a" style="left:498.0px;top:133.1px;width:5.6px;height:4.1px;background:#f6f6f6;border:0.3px solid #d0d0d0;font-size:3px;line-height:3.5px;text-align:center;color:#444">˄</div>
<div class="a" style="left:503.8px;top:133.1px;width:5.6px;height:4.1px;background:#f6f6f6;border:0.3px solid #d0d0d0;font-size:3px;line-height:3.5px;text-align:center;color:#444">˅</div>
<div class="a" style="left:509.6px;top:133.1px;width:5.6px;height:4.1px;background:#f6e6e6;border:0.3px solid #d0d0d0;font-size:3px;line-height:3.5px;text-align:center;color:#444">×</div>
<div class="a" style="left:21.6px;top:227.3px;width:510px;height:101px;border:0.8px solid #c8c8c8;border-radius:1.5px;box-shadow:0 0.6px 1px rgba(0,0,0,.15)"></div>
<div class="a" style="left:22.9px;top:226.7px;font-size:8.6px;color:#222;transform:scaleX(0.845);transform-origin:0 0">Search Results:</div>
<div class="a" style="left:22.8px;top:241.3px;font-size:4.3px;line-height:5px;color:#222;-webkit-text-stroke:0.1px #222">Show</div>
<div class="a" style="left:34.5px;top:239.6px;width:20px;height:9px;border:0.4px solid #f1f1f1;border-radius:1px"></div>
<div class="a" style="left:38.6px;top:241.3px;font-size:4.3px;line-height:5px;color:#222;-webkit-text-stroke:0.1px #222">25</div>
<div class="a" style="left:49.9px;top:241.9px;font-size:3.2px;line-height:4px;color:#222;transform:scaleX(1.1)">▼</div>
<div class="a" style="left:54.1px;top:241.3px;font-size:4.3px;line-height:5px;color:#222;-webkit-text-stroke:0.1px #222">entries</div>
<div class="a" style="left:454.4px;top:241.4px;font-size:3.95px;line-height:5px;font-weight:bold;color:#222">Search:</div>
<div class="a" style="left:469.8px;top:238.2px;width:60px;height:10.9px;border:0.4px solid #f0f0f0;border-radius:1px"></div>
<div class="a" style="left:22.6px;top:252px;width:495.2px;height:14.5px;background:#0b7a3b"></div>
<div class="th" style="left:28.4px">Gene</div>
<div class="si" style="left:92.9px">⬍</div>
<div class="th" style="left:103.3px">GeneID</div>
<div class="si" style="left:167.4px">⬍</div>
<div class="th" style="left:177.8px">Study</div>
<div class="si" style="left:241.4px">⬍</div>
<div class="th" style="left:251.8px">Cell</div>
<div class="si" style="left:315.7px">⬍</div>
<div class="th" style="left:326.1px">Pvalue</div>
<div class="si" style="left:389.6px">˄</div>
<div class="th" style="left:400.0px">Beta</div>
<div class="si" style="left:463.9px">⬍</div>
<div class="th" style="left:474.3px">SE</div>
<div class="si" style="left:513.2px">⬍</div>
<div class="a" style="left:22.6px;top:266.7px;width:495.2px;height:12.1px;background:#f6f6f6;border-top:0.4px solid #ebebeb"></div>
<div class="a" style="left:320.3px;top:267.1px;width:73.9px;height:11.7px;background:#ebebeb"></div>
<div class="td" style="left:25.9px;top:272.0px">IRAK3</div>
<div class="td" style="left:99.9px;top:272.0px">ENSG00000090376</div>
<div class="td" style="left:174.0px;top:272.0px">DICE_2022</div>
<div class="td" style="left:248.5px;top:272.0px">Naive B cell</div>
<div class="td" style="left:322.8px;top:272.0px">8.588e-20</div>
<div class="td" style="left:397.4px;top:272.0px">-1.14</div>
<div class="td" style="left:472.1px;top:272.0px">-</div>
<div class="a" style="left:22.6px;top:278.8px;width:495.2px;height:12.1px;background:#fff;border-top:0.4px solid #ebebeb"></div>
<div class="a" style="left:320.3px;top:279.2px;width:73.9px;height:11.7px;background:#f7f7f7"></div>
<div class="td" style="left:25.9px;top:284.0px">RBMS1P1</div>
<div class="td" style="left:99.9px;top:284.0px">ENSG00000225422</div>
<div class="td" style="left:174.0px;top:284.0px">DICE_2022</div>
<div class="td" style="left:248.5px;top:284.0px">Naive B cell</div>
<div class="td" style="left:322.8px;top:284.0px">7.895e-18</div>
<div class="td" style="left:397.4px;top:284.0px">-1.1</div>
<div class="td" style="left:472.1px;top:284.0px">-</div>
<div class="a" style="left:22.6px;top:290.9px;width:495.2px;height:12.1px;background:#f6f6f6;border-top:0.4px solid #ebebeb"></div>
<div class="a" style="left:320.3px;top:291.3px;width:73.9px;height:11.7px;background:#ebebeb"></div>
<div class="td" style="left:25.9px;top:296.0px">TMBIM4</div>
<div class="td" style="left:99.9px;top:296.0px">ENSG00000155957</div>
<div class="td" style="left:174.0px;top:296.0px">DICE_2022</div>
<div class="td" style="left:248.5px;top:296.0px">TFH</div>
<div class="td" style="left:322.8px;top:296.0px">4.807e-06</div>
<div class="td" style="left:397.4px;top:296.0px">-0.65</div>
<div class="td" style="left:472.1px;top:296.0px">-</div>
<div class="a" style="left:22.6px;top:303.0px;width:495.2px;height:12.0px;background:#fff;border-top:0.4px solid #ebebeb"></div>
<div class="a" style="left:320.3px;top:303.4px;width:73.9px;height:11.6px;background:#f7f7f7"></div>
<div class="td" style="left:25.9px;top:308.0px">RP11-745O10.2</div>
<div class="td" style="left:99.9px;top:308.0px">ENSG00000239335</div>
<div class="td" style="left:174.0px;top:308.0px">DICE_2022</div>
<div class="td" style="left:248.5px;top:308.0px">CD8_stim</div>
<div class="td" style="left:322.8px;top:308.0px">1.718e-05</div>
<div class="td" style="left:397.4px;top:308.0px">-0.65</div>
<div class="td" style="left:472.1px;top:308.0px">-</div>
<div class="a" style="left:22.6px;top:315.0px;width:495.2px;height:12.0px;background:#f6f6f6;border-top:0.4px solid #ebebeb"></div>
<div class="a" style="left:320.3px;top:315.4px;width:73.9px;height:11.6px;background:#ebebeb"></div>
<div class="td" style="left:25.9px;top:319.9px">RP11-745O10.2</div>
<div class="td" style="left:99.9px;top:319.9px">ENSG00000239335</div>
<div class="td" style="left:174.0px;top:319.9px">DICE_2022</div>
<div class="td" style="left:248.5px;top:319.9px">TH2</div>
<div class="td" style="left:322.8px;top:319.9px">9.314e-05</div>
<div class="td" style="left:397.4px;top:319.9px">-0.57</div>
<div class="td" style="left:472.1px;top:319.9px">-</div>
<div class="a" style="left:22.2px;top:327.0px;width:495.6px;height:0.9px;background:#c2c2c2"></div>
<div class="a" style="left:21px;top:340.7px;width:496.7px;height:0.8px;background:#c8c8c8"></div>
<div class="a" style="left:67.6px;top:341.8px;width:450px;height:62.3px;background:#f0f0f0"></div>
<div class="a" style="left:21.6px;top:341.8px;width:45px;height:62.3px;background:#3b479e"></div>
<div class="a" style="left:67.6px;top:404.1px;width:450px;height:61.1px;background:#ffffff"></div>
<div class="a" style="left:21.6px;top:404.1px;width:45px;height:61.1px;background:#a3a3bd"></div>
<div class="a" style="left:67.6px;top:465.2px;width:450px;height:48.8px;background:#f0f0f0"></div>
<div class="a" style="left:21.6px;top:465.2px;width:45px;height:48.8px;background:#7779bb"></div>
<div class="a" style="left:21.6px;top:404.1px;width:45px;height:0.7px;background:#b4b4d2"></div>
<div class="a" style="left:21.6px;top:465.2px;width:45px;height:0.7px;background:#9a9cd0"></div>
<svg class="a" style="left:80.3px;top:359.1px" width="15" height="25" viewBox="0 0 15 25"><g fill="#c45856"><ellipse cx="7.5" cy="1.8" rx="1.15" ry="1.6"/><path d="M6.95 3.3 L8.05 3.3 L8.15 4.2 L10.2 4.7 Q10.9 4.95 11.1 5.6 L14.3 13.0 L14.5 13.6 L14.0 13.9 L13.4 13.2 L10.0 7.4 L9.8 11.5 L10.0 14.5 L9.6 16.2 L9.3 22.6 L9.3 24.3 L8.1 24.3 L7.9 22.6 L7.7 16.6 L7.3 16.6 L7.1 22.6 L6.9 24.3 L5.7 24.3 L5.7 22.6 L5.4 16.2 L5.0 14.5 L5.2 11.5 L5.0 7.4 L1.6 13.2 L1.0 13.9 L0.5 13.6 L0.7 13.0 L3.9 5.6 Q4.1 4.95 4.8 4.7 L6.85 4.2 Z"/></g></svg>
<svg class="a" style="left:80.3px;top:421.0px" width="15" height="25" viewBox="0 0 15 25"><g fill="#c45856"><ellipse cx="7.5" cy="1.8" rx="1.15" ry="1.6"/><path d="M6.95 3.3 L8.05 3.3 L8.15 4.2 L10.2 4.7 Q10.9 4.95 11.1 5.6 L14.3 13.0 L14.5 13.6 L14.0 13.9 L13.4 13.2 L10.0 7.4 L9.8 11.5 L10.0 14.5 L9.6 16.2 L9.3 22.6 L9.3 24.3 L8.1 24.3 L7.9 22.6 L7.7 16.6 L7.3 16.6 L7.1 22.6 L6.9 24.3 L5.7 24.3 L5.7 22.6 L5.4 16.2 L5.0 14.5 L5.2 11.5 L5.0 7.4 L1.6 13.2 L1.0 13.9 L0.5 13.6 L0.7 13.0 L3.9 5.6 Q4.1 4.95 4.8 4.7 L6.85 4.2 Z"/></g></svg>
<svg class="a" style="left:80.3px;top:476.1px" width="15" height="25" viewBox="0 0 15 25"><g fill="#c45856"><ellipse cx="7.5" cy="1.8" rx="1.15" ry="1.6"/><path d="M6.95 3.3 L8.05 3.3 L8.15 4.2 L10.2 4.7 Q10.9 4.95 11.1 5.6 L14.3 13.0 L14.5 13.6 L14.0 13.9 L13.4 13.2 L10.0 7.4 L9.8 11.5 L10.0 14.5 L9.6 16.2 L9.3 22.6 L9.3 24.3 L8.1 24.3 L7.9 22.6 L7.7 16.6 L7.3 16.6 L7.1 22.6 L6.9 24.3 L5.7 24.3 L5.7 22.6 L5.4 16.2 L5.0 14.5 L5.2 11.5 L5.0 7.4 L1.6 13.2 L1.0 13.9 L0.5 13.6 L0.7 13.0 L3.9 5.6 Q4.1 4.95 4.8 4.7 L6.85 4.2 Z"/></g></svg>
<div class="cc" style="left:121.8px;top:365.4px;width:60px;font-size:9.7px;transform:scaleX(0.865);transform-origin:50% 50%"><span class="lk" style="text-underline-offset:1.9px;-webkit-text-stroke:0.2px #333">RBMS1P1</span></div>
<div class="cc" style="left:195.7px;top:366.0px;width:120px"><span class="lk">'lung carcinoma' vs 'normal'</span></div>
<div class="cc" style="left:317.4px;top:359.5px;width:70px">biopsy site,<br>disease</div>
<div class="cc" style="left:388.3px;top:346.4px;width:130px"><span class="lk">Gene expression profiling of the</span><br><span class="lk">adjacent airway field</span><br><span class="lk">cancerization in early stage</span><br><span class="lk">NSCLC</span></div>
<div class="cc" style="left:121.8px;top:427.9px;width:60px;font-size:9.7px;transform:scaleX(0.865);transform-origin:50% 50%"><span class="lk" style="text-underline-offset:1.9px;-webkit-text-stroke:0.2px #333">RBMS1P1</span></div>
<div class="cc" style="left:195.7px;top:408.8px;width:120px"><span class="lk">'non small cell lung</span><br><span class="lk">carcinoma neoplasm' vs</span><br><span class="lk">'normal tissue adjacent to</span><br><span class="lk">neoplasm'</span></div>
<div class="cc" style="left:317.4px;top:428.4px;width:70px">sampling site</div>
<div class="cc" style="left:388.3px;top:421.9px;width:130px"><span class="lk">RNA profiling of non-small cell</span><br><span class="lk">lung cancer</span></div>
<div class="cc" style="left:121.8px;top:482.6px;width:60px;font-size:9.7px;transform:scaleX(0.865);transform-origin:50% 50%"><span class="lk" style="text-underline-offset:1.9px;-webkit-text-stroke:0.2px #333">RBMS1P1</span></div>
<div class="cc" style="left:195.7px;top:476.7px;width:120px"><span class="lk">'non-small cell lung</span><br><span class="lk">carcinoma' vs 'normal'</span></div>
<div class="cc" style="left:317.4px;top:483.2px;width:70px">block, disease</div>
<div class="cc" style="left:388.3px;top:470.1px;width:130px"><span class="lk">RNA-seq of blood platelets</span><br><span class="lk">from six tumor types and</span><br><span class="lk">healthy donors</span></div>
</body></html>
